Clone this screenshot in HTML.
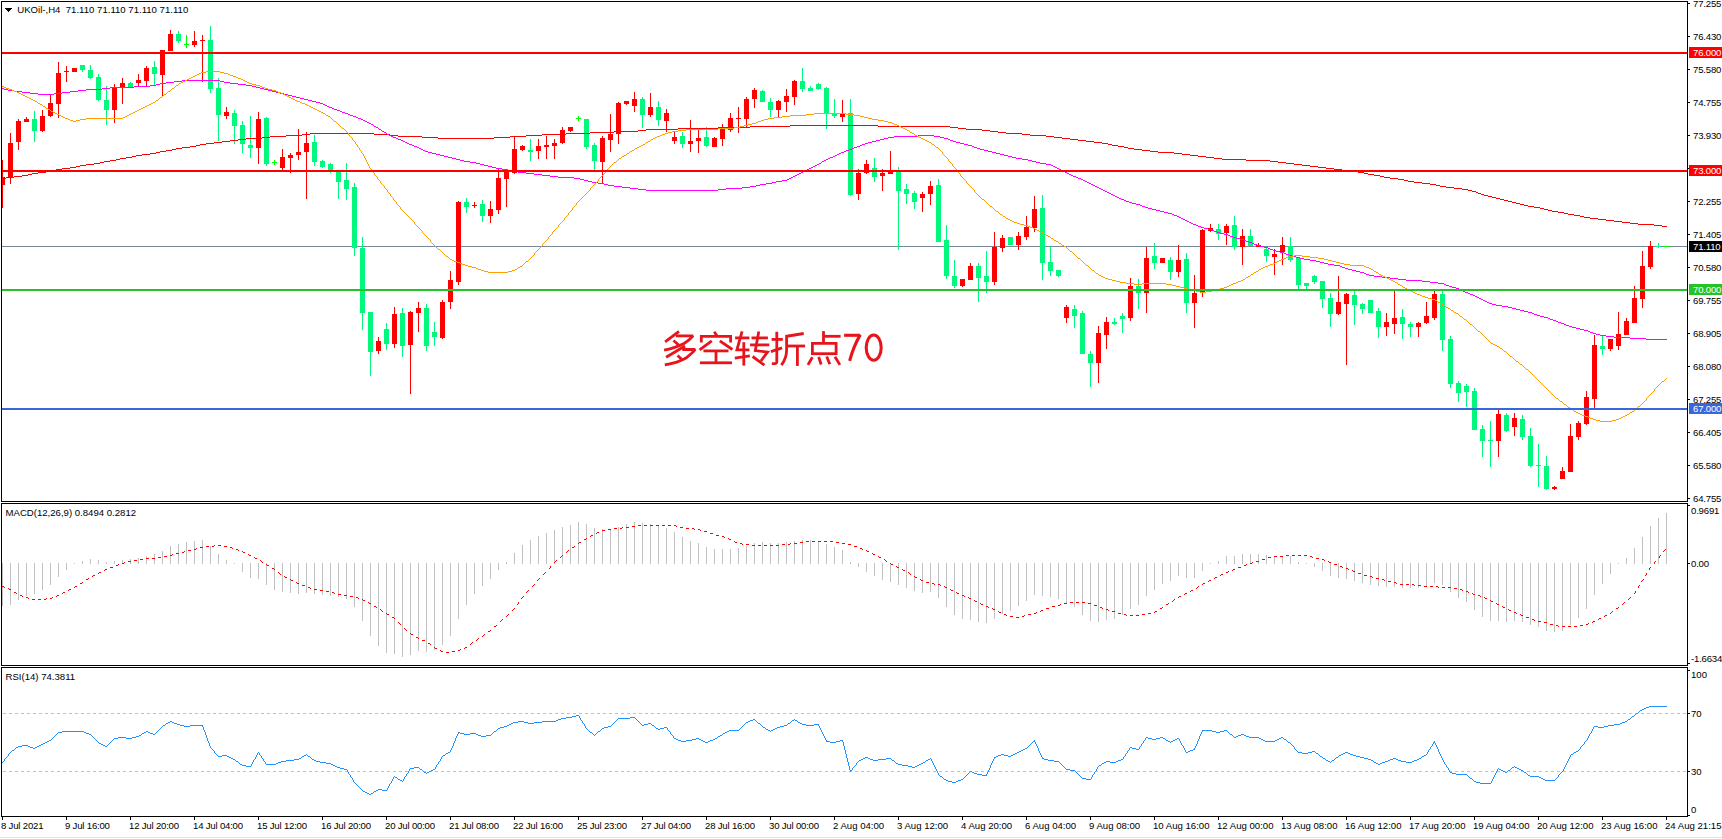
<!DOCTYPE html><html><head><meta charset="utf-8"><title>UKOil H4</title><style>html,body{margin:0;padding:0;background:#fff}body{width:1722px;height:839px;overflow:hidden}svg{display:block}text{font-family:"Liberation Sans",sans-serif;font-size:9.8px;fill:#000}</style></head><body>
<svg width="1722" height="839" viewBox="0 0 1722 839">
<rect width="1722" height="839" fill="#fff"/>
<g shape-rendering="crispEdges">
<rect x="0" y="837" width="1722" height="1" fill="#e2e2e2"/>
<path d="M2 563v43M10 563v42M18 563v37M26 563v33M34 563v31M42 563v27M50 563v22M58 563v14M66 563v7M74 563v1M82 561v3M90 559v5M98 560v4M106 562v2M114 561v3M122 560v4M130 559v5M138 558v6M146 556v8M154 554v10M162 551v13M170 546v18M178 544v20M186 542v22M194 541v23M202 540v24M210 546v18M218 554v10M226 560v4M234 563v1M242 563v9M250 563v15M258 563v16M266 563v22M274 563v27M282 563v29M290 563v30M298 563v31M306 563v30M314 563v31M322 563v32M330 563v33M338 563v34M346 563v36M354 563v44M362 563v58M370 563v73M378 563v83M386 563v90M394 563v91M402 563v94M410 563v92M418 563v88M426 563v89M434 563v87M442 563v82M450 563v73M458 563v56M466 563v42M474 563v31M482 563v23M490 563v16M498 563v7M506 562v2M514 553v11M522 545v19M530 540v24M538 536v28M546 533v31M554 530v34M562 527v37M570 525v39M578 522v42M586 524v40M594 528v36M602 529v35M610 529v35M618 527v37M626 524v40M634 522v42M642 523v41M650 524v40M658 526v38M666 528v36M674 532v32M682 537v27M690 541v23M698 543v21M706 547v17M714 549v15M722 549v15M730 549v15M738 548v16M746 546v18M754 543v21M762 542v22M770 543v21M778 543v21M786 542v22M794 541v23M802 540v24M810 540v24M818 541v23M826 544v20M834 547v17M842 550v14M850 562v2M858 563v4M866 563v9M874 563v13M882 563v17M890 563v19M898 563v22M906 563v25M914 563v28M922 563v30M930 563v29M938 563v35M946 563v44M954 563v52M962 563v56M970 563v57M978 563v59M986 563v60M994 563v56M1002 563v51M1010 563v48M1018 563v43M1026 563v38M1034 563v32M1042 563v33M1050 563v34M1058 563v36M1066 563v40M1074 563v44M1082 563v52M1090 563v58M1098 563v59M1106 563v57M1114 563v56M1122 563v52M1130 563v46M1138 563v42M1146 563v33M1154 563v27M1162 563v21M1170 563v18M1178 563v13M1186 563v15M1194 563v15M1202 563v8M1210 563v1M1218 561v3M1226 556v8M1234 556v8M1242 554v10M1250 554v10M1258 554v10M1266 555v9M1274 556v8M1282 556v8M1290 556v8M1298 562v2M1306 563v1M1314 563v4M1322 563v8M1330 563v13M1338 563v15M1346 563v16M1354 563v18M1362 563v20M1370 563v22M1378 563v23M1386 563v24M1394 563v24M1402 563v25M1410 563v25M1418 563v25M1426 563v23M1434 563v20M1442 563v22M1450 563v29M1458 563v35M1466 563v39M1474 563v47M1482 563v54M1490 563v58M1498 563v58M1506 563v59M1514 563v58M1522 563v59M1530 563v62M1538 563v64M1546 563v68M1554 563v69M1562 563v68M1570 563v62M1578 563v55M1586 563v46M1594 563v32M1602 563v21M1610 563v11M1618 563v1M1626 558v6M1634 548v16M1642 537v27M1650 526v38M1658 518v46M1666 513v51" stroke="#c0c0c0" stroke-width="1" fill="none" transform="translate(0.5,0)"/>
<path d="M3 713.5H1687M3 771.5H1687" stroke="#c0c0c0" stroke-width="1" stroke-dasharray="3 3" fill="none"/>
<rect x="2" y="246" width="1685" height="1" fill="#778899"/>
<path d="M34 111h1v31h-1zM32 119h5v12h-5zM82 65h1v7h-1zM80 65h5v5h-5zM90 65h1v14h-1zM88 70h5v8h-5zM98 74h1v27h-1zM96 77h5v23h-5zM106 86h1v39h-1zM104 100h5v10h-5zM130 82h1v5h-1zM128 83h5v4h-5zM154 61h1v24h-1zM152 67h5v7h-5zM178 31h1v12h-1zM176 34h5v7h-5zM210 26h1v67h-1zM208 40h5v49h-5zM218 78h1v63h-1zM216 88h5v27h-5zM234 110h1v34h-1zM232 113h5v13h-5zM242 121h1v32h-1zM240 125h5v19h-5zM250 116h1v42h-1zM248 145h5v3h-5zM266 117h1v49h-1zM264 118h5v46h-5zM314 135h1v31h-1zM312 142h5v20h-5zM322 160h1v8h-1zM320 161h5v6h-5zM330 163h1v10h-1zM328 164h5v6h-5zM338 170h1v29h-1zM336 170h5v12h-5zM346 163h1v37h-1zM344 180h5v9h-5zM354 183h1v73h-1zM352 187h5v61h-5zM362 237h1v93h-1zM360 248h5v65h-5zM370 312h1v64h-1zM368 312h5v40h-5zM386 323h1v27h-1zM384 329h5v15h-5zM402 308h1v49h-1zM400 313h5v33h-5zM426 304h1v47h-1zM424 308h5v38h-5zM434 322h1v24h-1zM432 332h5v5h-5zM466 198h1v15h-1zM464 202h5v5h-5zM482 200h1v22h-1zM480 204h5v12h-5zM530 139h1v22h-1zM528 150h5v2h-5zM586 119h1v30h-1zM584 119h5v28h-5zM594 143h1v27h-1zM592 145h5v16h-5zM642 97h1v31h-1zM640 99h5v16h-5zM658 101h1v25h-1zM656 107h5v13h-5zM682 132h1v16h-1zM680 136h5v8h-5zM706 127h1v20h-1zM704 137h5v9h-5zM762 90h1v12h-1zM760 91h5v11h-5zM770 98h1v19h-1zM768 102h5v8h-5zM802 68h1v24h-1zM800 81h5v8h-5zM810 86h1v5h-1zM808 88h5v3h-5zM818 83h1v7h-1zM816 84h5v5h-5zM826 87h1v42h-1zM824 88h5v26h-5zM834 99h1v19h-1zM832 113h5v3h-5zM850 99h1v97h-1zM848 113h5v82h-5zM874 158h1v24h-1zM872 168h5v9h-5zM898 167h1v83h-1zM896 172h5v19h-5zM906 184h1v20h-1zM904 189h5v5h-5zM914 191h1v18h-1zM912 193h5v9h-5zM938 179h1v63h-1zM936 185h5v57h-5zM946 225h1v54h-1zM944 240h5v36h-5zM954 260h1v28h-1zM952 276h5v10h-5zM978 263h1v39h-1zM976 266h5v12h-5zM986 251h1v42h-1zM984 276h5v6h-5zM1010 237h1v8h-1zM1008 237h5v8h-5zM1042 195h1v85h-1zM1040 208h5v55h-5zM1050 246h1v30h-1zM1048 262h5v9h-5zM1058 270h1v7h-1zM1056 270h5v6h-5zM1074 305h1v23h-1zM1072 309h5v7h-5zM1082 311h1v43h-1zM1080 313h5v41h-5zM1090 351h1v36h-1zM1088 354h5v9h-5zM1114 318h1v7h-1zM1112 322h5v2h-5zM1122 313h1v20h-1zM1120 316h5v3h-5zM1138 279h1v30h-1zM1136 286h5v7h-5zM1154 243h1v26h-1zM1152 256h5v7h-5zM1170 257h1v23h-1zM1168 260h5v12h-5zM1186 253h1v60h-1zM1184 259h5v44h-5zM1218 224h1v16h-1zM1216 229h5v5h-5zM1234 216h1v34h-1zM1232 225h5v22h-5zM1250 229h1v17h-1zM1248 236h5v10h-5zM1266 247h1v15h-1zM1264 249h5v7h-5zM1290 237h1v25h-1zM1288 246h5v14h-5zM1298 258h1v31h-1zM1296 258h5v27h-5zM1306 283h1v6h-1zM1304 283h5v3h-5zM1314 275h1v9h-1zM1312 276h5v6h-5zM1322 281h1v27h-1zM1320 281h5v18h-5zM1330 293h1v34h-1zM1328 298h5v16h-5zM1354 291h1v34h-1zM1352 295h5v10h-5zM1362 303h1v11h-1zM1360 304h5v5h-5zM1370 300h1v13h-1zM1368 300h5v13h-5zM1378 308h1v30h-1zM1376 311h5v16h-5zM1402 309h1v30h-1zM1400 317h5v7h-5zM1410 322h1v15h-1zM1408 324h5v3h-5zM1442 291h1v60h-1zM1440 294h5v46h-5zM1450 336h1v52h-1zM1448 339h5v45h-5zM1458 381h1v21h-1zM1456 383h5v10h-5zM1466 384h1v23h-1zM1464 386h5v6h-5zM1474 388h1v42h-1zM1472 391h5v39h-5zM1482 425h1v32h-1zM1480 429h5v12h-5zM1490 421h1v46h-1zM1488 440h5v1h-5zM1506 413h1v19h-1zM1504 415h5v16h-5zM1522 415h1v25h-1zM1520 419h5v18h-5zM1530 428h1v39h-1zM1528 436h5v30h-5zM1538 444h1v43h-1zM1536 465h5v1h-5zM1546 456h1v34h-1zM1544 466h5v23h-5zM1602 336h1v19h-1zM1600 346h5v3h-5zM1658 243h1v5h-1zM1656 246h5v1h-5z" fill="#00f87d"/>
<path d="M186 35h1v13h-1zM184 44h5v1h-5zM274 160h1v5h-1zM272 162h5v1h-5zM578 116h1v5h-1zM576 118h5v1h-5zM1666 246h1v1h-1zM1664 246h5v1h-5z" fill="#00ff00"/>
<path d="M2 160h1v48h-1zM2 177h3v8h-3zM10 133h1v51h-1zM8 143h5v35h-5zM18 119h1v31h-1zM16 121h5v21h-5zM26 117h1v5h-1zM24 119h5v3h-5zM42 110h1v22h-1zM40 116h5v15h-5zM50 94h1v23h-1zM48 103h5v13h-5zM58 62h1v56h-1zM56 73h5v31h-5zM66 66h1v16h-1zM64 71h5v1h-5zM74 68h1v4h-1zM72 68h5v4h-5zM114 84h1v39h-1zM112 87h5v23h-5zM122 78h1v26h-1zM120 83h5v4h-5zM138 74h1v12h-1zM136 80h5v3h-5zM146 66h1v20h-1zM144 68h5v13h-5zM162 50h1v47h-1zM160 50h5v25h-5zM170 30h1v21h-1zM168 34h5v17h-5zM194 31h1v16h-1zM192 41h5v4h-5zM202 35h1v47h-1zM200 40h5v1h-5zM226 107h1v12h-1zM224 112h5v4h-5zM258 112h1v52h-1zM256 119h5v29h-5zM282 149h1v21h-1zM280 157h5v11h-5zM290 153h1v20h-1zM288 155h5v3h-5zM298 129h1v31h-1zM296 152h5v3h-5zM306 132h1v67h-1zM304 143h5v9h-5zM378 337h1v17h-1zM376 341h5v10h-5zM394 307h1v41h-1zM392 314h5v30h-5zM410 311h1v83h-1zM408 312h5v33h-5zM418 302h1v30h-1zM416 308h5v5h-5zM442 300h1v39h-1zM440 302h5v36h-5zM450 271h1v38h-1zM448 280h5v22h-5zM458 201h1v84h-1zM456 202h5v80h-5zM474 202h1v6h-1zM472 205h5v1h-5zM490 201h1v22h-1zM488 209h5v7h-5zM498 169h1v45h-1zM496 178h5v32h-5zM506 169h1v38h-1zM504 170h5v9h-5zM514 136h1v38h-1zM512 149h5v24h-5zM522 145h1v6h-1zM520 146h5v4h-5zM538 139h1v20h-1zM536 146h5v5h-5zM546 136h1v23h-1zM544 145h5v2h-5zM554 139h1v20h-1zM552 143h5v3h-5zM562 127h1v17h-1zM560 130h5v13h-5zM570 127h1v5h-1zM568 127h5v4h-5zM602 136h1v47h-1zM600 138h5v24h-5zM610 114h1v38h-1zM608 134h5v6h-5zM618 102h1v42h-1zM616 103h5v31h-5zM626 101h1v4h-1zM624 101h5v3h-5zM634 92h1v20h-1zM632 99h5v7h-5zM650 93h1v24h-1zM648 107h5v8h-5zM666 109h1v23h-1zM664 113h5v8h-5zM674 132h1v12h-1zM672 137h5v4h-5zM690 120h1v32h-1zM688 141h5v3h-5zM698 130h1v23h-1zM696 138h5v3h-5zM714 137h1v10h-1zM712 138h5v9h-5zM722 124h1v22h-1zM720 128h5v11h-5zM730 113h1v19h-1zM728 118h5v12h-5zM738 107h1v26h-1zM736 118h5v1h-5zM746 97h1v30h-1zM744 99h5v20h-5zM754 88h1v20h-1zM752 90h5v9h-5zM778 100h1v17h-1zM776 101h5v9h-5zM786 89h1v23h-1zM784 96h5v6h-5zM794 80h1v25h-1zM792 81h5v16h-5zM842 100h1v22h-1zM840 113h5v4h-5zM858 169h1v31h-1zM856 173h5v21h-5zM866 160h1v14h-1zM864 164h5v9h-5zM882 169h1v22h-1zM880 173h5v3h-5zM890 151h1v23h-1zM888 170h5v4h-5zM922 192h1v20h-1zM920 194h5v4h-5zM930 181h1v24h-1zM928 186h5v8h-5zM962 279h1v8h-1zM960 279h5v7h-5zM970 263h1v17h-1zM968 266h5v14h-5zM994 232h1v53h-1zM992 247h5v35h-5zM1002 235h1v17h-1zM1000 238h5v10h-5zM1018 232h1v18h-1zM1016 236h5v9h-5zM1026 216h1v24h-1zM1024 227h5v10h-5zM1034 196h1v36h-1zM1032 209h5v19h-5zM1066 305h1v18h-1zM1064 307h5v11h-5zM1098 326h1v57h-1zM1096 333h5v30h-5zM1106 317h1v32h-1zM1104 322h5v13h-5zM1130 278h1v43h-1zM1128 286h5v32h-5zM1146 247h1v66h-1zM1144 258h5v35h-5zM1162 258h1v5h-1zM1160 258h5v5h-5zM1178 245h1v32h-1zM1176 260h5v12h-5zM1194 275h1v53h-1zM1192 293h5v10h-5zM1202 229h1v68h-1zM1200 230h5v63h-5zM1210 224h1v8h-1zM1208 228h5v3h-5zM1226 224h1v21h-1zM1224 226h5v7h-5zM1242 229h1v36h-1zM1240 236h5v11h-5zM1258 243h1v4h-1zM1256 245h5v2h-5zM1274 249h1v26h-1zM1272 254h5v3h-5zM1282 237h1v28h-1zM1280 245h5v7h-5zM1338 276h1v39h-1zM1336 302h5v12h-5zM1346 293h1v72h-1zM1344 294h5v10h-5zM1386 313h1v23h-1zM1384 322h5v5h-5zM1394 291h1v43h-1zM1392 318h5v6h-5zM1418 322h1v15h-1zM1416 323h5v4h-5zM1426 302h1v22h-1zM1424 316h5v7h-5zM1434 291h1v29h-1zM1432 294h5v24h-5zM1498 410h1v47h-1zM1496 414h5v27h-5zM1514 413h1v23h-1zM1512 418h5v9h-5zM1554 486h1v4h-1zM1552 487h5v2h-5zM1562 467h1v12h-1zM1560 471h5v8h-5zM1570 424h1v48h-1zM1568 436h5v36h-5zM1578 421h1v19h-1zM1576 423h5v14h-5zM1586 391h1v34h-1zM1584 397h5v27h-5zM1594 335h1v73h-1zM1592 345h5v54h-5zM1610 339h1v12h-1zM1608 339h5v10h-5zM1618 312h1v38h-1zM1616 334h5v12h-5zM1626 318h1v17h-1zM1624 321h5v14h-5zM1634 286h1v37h-1zM1632 298h5v25h-5zM1642 251h1v57h-1zM1640 266h5v33h-5zM1650 241h1v28h-1zM1648 246h5v21h-5z" fill="#ff0000"/>
<path d="M790 125h88v1h-88zM750 126h40v1h-40zM878 126h72v1h-72zM718 127h32v1h-32zM950 127h8v1h-8zM678 128h40v1h-40zM958 128h8v1h-8zM646 129h32v1h-32zM966 129h16v1h-16zM638 130h8v1h-8zM982 130h8v1h-8zM614 131h24v1h-24zM990 131h8v1h-8zM590 132h24v1h-24zM998 132h8v1h-8zM310 133h64v1h-64zM566 133h24v1h-24zM1006 133h16v1h-16zM302 134h8v1h-8zM374 134h16v1h-16zM542 134h24v1h-24zM1022 134h8v1h-8zM286 135h16v1h-16zM390 135h8v1h-8zM526 135h16v1h-16zM1030 135h16v1h-16zM270 136h16v1h-16zM398 136h24v1h-24zM510 136h16v1h-16zM1046 136h8v1h-8zM262 137h8v1h-8zM422 137h16v1h-16zM494 137h16v1h-16zM1054 137h8v1h-8zM246 138h16v1h-16zM438 138h56v1h-56zM1062 138h8v1h-8zM238 139h8v1h-8zM1070 139h8v1h-8zM230 140h8v1h-8zM1078 140h8v1h-8zM222 141h8v1h-8zM1086 141h8v1h-8zM214 142h8v1h-8zM1094 142h8v1h-8zM206 143h8v1h-8zM1102 143h6v1h-6zM200 144h6v1h-6zM1108 144h4v1h-4zM196 145h4v1h-4zM1112 145h6v1h-6zM190 146h6v1h-6zM1118 146h6v1h-6zM182 147h8v1h-8zM1124 147h4v1h-4zM176 148h6v1h-6zM1128 148h6v1h-6zM172 149h4v1h-4zM1134 149h8v1h-8zM166 150h6v1h-6zM1142 150h8v1h-8zM160 151h6v1h-6zM1150 151h8v1h-8zM156 152h4v1h-4zM1158 152h16v1h-16zM150 153h6v1h-6zM1174 153h8v1h-8zM142 154h8v1h-8zM1182 154h8v1h-8zM136 155h6v1h-6zM1190 155h8v1h-8zM132 156h4v1h-4zM1198 156h8v1h-8zM126 157h6v1h-6zM1206 157h8v1h-8zM120 158h6v1h-6zM1214 158h8v1h-8zM116 159h4v1h-4zM1222 159h24v1h-24zM110 160h6v1h-6zM1246 160h24v1h-24zM104 161h6v1h-6zM1270 161h8v1h-8zM100 162h4v1h-4zM1278 162h8v1h-8zM94 163h6v1h-6zM1286 163h8v1h-8zM86 164h8v1h-8zM1294 164h8v1h-8zM80 165h6v1h-6zM1302 165h8v1h-8zM76 166h4v1h-4zM1310 166h8v1h-8zM70 167h6v1h-6zM1318 167h8v1h-8zM62 168h8v1h-8zM1326 168h8v1h-8zM56 169h6v1h-6zM1334 169h8v1h-8zM52 170h4v1h-4zM1342 170h8v1h-8zM46 171h6v1h-6zM1350 171h8v1h-8zM38 172h8v1h-8zM1358 172h6v1h-6zM32 173h6v1h-6zM1364 173h4v1h-4zM28 174h4v1h-4zM1368 174h6v1h-6zM22 175h6v1h-6zM1374 175h6v1h-6zM14 176h8v1h-8zM1380 176h4v1h-4zM6 177h8v1h-8zM1384 177h6v1h-6zM2 178h4v1h-4zM1390 178h8v1h-8zM1398 179h6v1h-6zM1404 180h4v1h-4zM1408 181h6v1h-6zM1414 182h8v1h-8zM1422 183h8v1h-8zM1430 184h6v1h-6zM1436 185h4v1h-4zM1440 186h6v1h-6zM1446 187h8v1h-8zM1454 188h8v1h-8zM1462 189h6v1h-6zM1468 190h4v1h-4zM1472 191h4v1h-4zM1476 192h2v1h-2zM1478 193h3v1h-3zM1481 194h3v1h-3zM1484 195h4v1h-4zM1488 196h4v1h-4zM1492 197h4v1h-4zM1496 198h4v1h-4zM1500 199h4v1h-4zM1504 200h4v1h-4zM1508 201h4v1h-4zM1512 202h4v1h-4zM1516 203h4v1h-4zM1520 204h4v1h-4zM1524 205h4v1h-4zM1528 206h6v1h-6zM1534 207h6v1h-6zM1540 208h4v1h-4zM1544 209h4v1h-4zM1548 210h4v1h-4zM1552 211h6v1h-6zM1558 212h6v1h-6zM1564 213h4v1h-4zM1568 214h6v1h-6zM1574 215h6v1h-6zM1580 216h4v1h-4zM1584 217h6v1h-6zM1590 218h8v1h-8zM1598 219h8v1h-8zM1606 220h8v1h-8zM1614 221h8v1h-8zM1622 222h8v1h-8zM1630 223h8v1h-8zM1638 224h16v1h-16zM1654 225h8v1h-8zM1662 226h5v1h-5z" fill="#ff0000"/>
<path d="M182 80h38v1h-38zM174 81h8v1h-8zM220 81h4v1h-4zM166 82h8v1h-8zM224 82h6v1h-6zM160 83h6v1h-6zM230 83h8v1h-8zM156 84h4v1h-4zM238 84h8v1h-8zM150 85h6v1h-6zM246 85h6v1h-6zM134 86h16v1h-16zM252 86h4v1h-4zM110 87h24v1h-24zM256 87h4v1h-4zM2 88h2v1h-2zM102 88h8v1h-8zM260 88h4v1h-4zM4 89h4v1h-4zM86 89h16v1h-16zM264 89h4v1h-4zM8 90h6v1h-6zM78 90h8v1h-8zM268 90h4v1h-4zM14 91h8v1h-8zM70 91h8v1h-8zM272 91h4v1h-4zM22 92h8v1h-8zM62 92h8v1h-8zM276 92h4v1h-4zM30 93h8v1h-8zM54 93h8v1h-8zM280 93h4v1h-4zM38 94h16v1h-16zM284 94h4v1h-4zM288 95h4v1h-4zM292 96h4v1h-4zM296 97h4v1h-4zM300 98h4v1h-4zM304 99h4v1h-4zM308 100h4v1h-4zM312 101h4v1h-4zM316 102h4v1h-4zM320 103h3v1h-3zM323 104h2v1h-2zM325 105h2v1h-2zM327 106h2v1h-2zM329 107h3v1h-3zM332 108h2v1h-2zM334 109h3v1h-3zM337 110h3v1h-3zM340 111h2v1h-2zM342 112h3v1h-3zM345 113h3v1h-3zM348 114h2v1h-2zM350 115h3v1h-3zM353 116h3v1h-3zM356 117h2v1h-2zM358 118h3v1h-3zM361 119h2v1h-2zM363 120h2v1h-2zM365 121h2v1h-2zM367 122h2v1h-2zM369 123h2v1h-2zM371 124h2v1h-2zM373 125h1v1h-1zM374 126h2v1h-2zM376 127h2v1h-2zM378 128h1v1h-1zM379 129h2v1h-2zM381 130h1v1h-1zM382 131h2v1h-2zM384 132h2v1h-2zM386 133h1v1h-1zM387 134h2v1h-2zM389 135h2v1h-2zM918 135h16v1h-16zM391 136h2v1h-2zM894 136h24v1h-24zM934 136h6v1h-6zM393 137h3v1h-3zM888 137h6v1h-6zM940 137h4v1h-4zM396 138h2v1h-2zM884 138h4v1h-4zM944 138h4v1h-4zM398 139h3v1h-3zM880 139h4v1h-4zM948 139h2v1h-2zM401 140h2v1h-2zM876 140h4v1h-4zM950 140h3v1h-3zM403 141h2v1h-2zM872 141h4v1h-4zM953 141h3v1h-3zM405 142h2v1h-2zM868 142h4v1h-4zM956 142h4v1h-4zM407 143h2v1h-2zM865 143h3v1h-3zM960 143h4v1h-4zM409 144h3v1h-3zM862 144h3v1h-3zM964 144h4v1h-4zM412 145h2v1h-2zM860 145h2v1h-2zM968 145h4v1h-4zM414 146h3v1h-3zM857 146h3v1h-3zM972 146h2v1h-2zM417 147h2v1h-2zM854 147h3v1h-3zM974 147h3v1h-3zM419 148h2v1h-2zM852 148h2v1h-2zM977 148h3v1h-3zM421 149h2v1h-2zM849 149h3v1h-3zM980 149h4v1h-4zM423 150h2v1h-2zM846 150h3v1h-3zM984 150h4v1h-4zM425 151h3v1h-3zM844 151h2v1h-2zM988 151h4v1h-4zM428 152h4v1h-4zM841 152h3v1h-3zM992 152h4v1h-4zM432 153h4v1h-4zM839 153h2v1h-2zM996 153h4v1h-4zM436 154h4v1h-4zM837 154h2v1h-2zM1000 154h4v1h-4zM440 155h4v1h-4zM835 155h2v1h-2zM1004 155h4v1h-4zM444 156h4v1h-4zM833 156h2v1h-2zM1008 156h4v1h-4zM448 157h4v1h-4zM830 157h3v1h-3zM1012 157h4v1h-4zM452 158h4v1h-4zM828 158h2v1h-2zM1016 158h6v1h-6zM456 159h4v1h-4zM826 159h2v1h-2zM1022 159h6v1h-6zM460 160h4v1h-4zM824 160h2v1h-2zM1028 160h4v1h-4zM464 161h6v1h-6zM822 161h2v1h-2zM1032 161h4v1h-4zM470 162h6v1h-6zM821 162h1v1h-1zM1036 162h4v1h-4zM476 163h4v1h-4zM819 163h2v1h-2zM1040 163h6v1h-6zM480 164h4v1h-4zM817 164h2v1h-2zM1046 164h5v1h-5zM484 165h4v1h-4zM815 165h2v1h-2zM1051 165h2v1h-2zM488 166h4v1h-4zM813 166h2v1h-2zM1053 166h2v1h-2zM492 167h4v1h-4zM811 167h2v1h-2zM1055 167h2v1h-2zM496 168h6v1h-6zM809 168h2v1h-2zM1057 168h2v1h-2zM502 169h6v1h-6zM807 169h2v1h-2zM1059 169h2v1h-2zM508 170h4v1h-4zM805 170h2v1h-2zM1061 170h2v1h-2zM512 171h6v1h-6zM803 171h2v1h-2zM1063 171h2v1h-2zM518 172h8v1h-8zM801 172h2v1h-2zM1065 172h2v1h-2zM526 173h8v1h-8zM799 173h2v1h-2zM1067 173h2v1h-2zM534 174h8v1h-8zM797 174h2v1h-2zM1069 174h2v1h-2zM542 175h8v1h-8zM795 175h2v1h-2zM1071 175h2v1h-2zM550 176h8v1h-8zM793 176h2v1h-2zM1073 176h3v1h-3zM558 177h16v1h-16zM791 177h2v1h-2zM1076 177h2v1h-2zM574 178h6v1h-6zM789 178h2v1h-2zM1078 178h3v1h-3zM580 179h4v1h-4zM787 179h2v1h-2zM1081 179h2v1h-2zM584 180h4v1h-4zM782 180h5v1h-5zM1083 180h2v1h-2zM588 181h4v1h-4zM776 181h6v1h-6zM1085 181h2v1h-2zM592 182h6v1h-6zM772 182h4v1h-4zM1087 182h2v1h-2zM598 183h6v1h-6zM766 183h6v1h-6zM1089 183h2v1h-2zM604 184h4v1h-4zM760 184h6v1h-6zM1091 184h2v1h-2zM608 185h6v1h-6zM756 185h4v1h-4zM1093 185h2v1h-2zM614 186h8v1h-8zM750 186h6v1h-6zM1095 186h2v1h-2zM622 187h8v1h-8zM742 187h8v1h-8zM1097 187h2v1h-2zM630 188h8v1h-8zM726 188h16v1h-16zM1099 188h2v1h-2zM638 189h8v1h-8zM718 189h8v1h-8zM1101 189h2v1h-2zM646 190h72v1h-72zM1103 190h2v1h-2zM1105 191h2v1h-2zM1107 192h2v1h-2zM1109 193h2v1h-2zM1111 194h2v1h-2zM1113 195h2v1h-2zM1115 196h2v1h-2zM1117 197h2v1h-2zM1119 198h2v1h-2zM1121 199h3v1h-3zM1124 200h2v1h-2zM1126 201h3v1h-3zM1129 202h3v1h-3zM1132 203h4v1h-4zM1136 204h4v1h-4zM1140 205h2v1h-2zM1142 206h3v1h-3zM1145 207h3v1h-3zM1148 208h4v1h-4zM1152 209h4v1h-4zM1156 210h4v1h-4zM1160 211h4v1h-4zM1164 212h4v1h-4zM1168 213h4v1h-4zM1172 214h2v1h-2zM1174 215h3v1h-3zM1177 216h2v1h-2zM1179 217h2v1h-2zM1181 218h2v1h-2zM1183 219h2v1h-2zM1185 220h2v1h-2zM1187 221h2v1h-2zM1189 222h2v1h-2zM1191 223h2v1h-2zM1193 224h3v1h-3zM1196 225h2v1h-2zM1198 226h3v1h-3zM1201 227h3v1h-3zM1204 228h4v1h-4zM1208 229h4v1h-4zM1212 230h2v1h-2zM1214 231h3v1h-3zM1217 232h3v1h-3zM1220 233h4v1h-4zM1224 234h4v1h-4zM1228 235h2v1h-2zM1230 236h3v1h-3zM1233 237h3v1h-3zM1236 238h4v1h-4zM1240 239h4v1h-4zM1244 240h2v1h-2zM1246 241h3v1h-3zM1249 242h3v1h-3zM1252 243h2v1h-2zM1254 244h3v1h-3zM1257 245h3v1h-3zM1260 246h4v1h-4zM1264 247h4v1h-4zM1268 248h2v1h-2zM1270 249h3v1h-3zM1273 250h3v1h-3zM1276 251h4v1h-4zM1280 252h4v1h-4zM1284 253h2v1h-2zM1286 254h3v1h-3zM1289 255h3v1h-3zM1292 256h4v1h-4zM1296 257h4v1h-4zM1300 258h4v1h-4zM1304 259h6v1h-6zM1310 260h6v1h-6zM1316 261h4v1h-4zM1320 262h4v1h-4zM1324 263h4v1h-4zM1328 264h6v1h-6zM1334 265h6v1h-6zM1340 266h2v1h-2zM1342 267h3v1h-3zM1345 268h3v1h-3zM1348 269h4v1h-4zM1352 270h4v1h-4zM1356 271h4v1h-4zM1360 272h4v1h-4zM1364 273h2v1h-2zM1366 274h3v1h-3zM1369 275h5v1h-5zM1374 276h8v1h-8zM1382 277h8v1h-8zM1390 278h8v1h-8zM1398 279h8v1h-8zM1406 280h16v1h-16zM1422 281h8v1h-8zM1430 282h8v1h-8zM1438 283h6v1h-6zM1444 284h2v1h-2zM1446 285h3v1h-3zM1449 286h3v1h-3zM1452 287h4v1h-4zM1456 288h3v1h-3zM1459 289h2v1h-2zM1461 290h2v1h-2zM1463 291h2v1h-2zM1465 292h3v1h-3zM1468 293h2v1h-2zM1470 294h3v1h-3zM1473 295h2v1h-2zM1475 296h2v1h-2zM1477 297h2v1h-2zM1479 298h2v1h-2zM1481 299h2v1h-2zM1483 300h2v1h-2zM1485 301h2v1h-2zM1487 302h2v1h-2zM1489 303h3v1h-3zM1492 304h4v1h-4zM1496 305h6v1h-6zM1502 306h6v1h-6zM1508 307h4v1h-4zM1512 308h4v1h-4zM1516 309h4v1h-4zM1520 310h4v1h-4zM1524 311h4v1h-4zM1528 312h4v1h-4zM1532 313h2v1h-2zM1534 314h3v1h-3zM1537 315h3v1h-3zM1540 316h4v1h-4zM1544 317h4v1h-4zM1548 318h2v1h-2zM1550 319h3v1h-3zM1553 320h3v1h-3zM1556 321h2v1h-2zM1558 322h3v1h-3zM1561 323h3v1h-3zM1564 324h2v1h-2zM1566 325h3v1h-3zM1569 326h3v1h-3zM1572 327h4v1h-4zM1576 328h4v1h-4zM1580 329h4v1h-4zM1584 330h4v1h-4zM1588 331h2v1h-2zM1590 332h3v1h-3zM1593 333h3v1h-3zM1596 334h4v1h-4zM1600 335h6v1h-6zM1606 336h8v1h-8zM1614 337h16v1h-16zM1630 338h16v1h-16zM1646 339h21v1h-21z" fill="#ff00ff"/>
<path d="M206 71h14v1h-14zM201 72h5v1h-5zM220 72h4v1h-4zM199 73h2v1h-2zM224 73h4v1h-4zM197 74h2v1h-2zM228 74h2v1h-2zM195 75h2v1h-2zM230 75h3v1h-3zM193 76h2v1h-2zM233 76h3v1h-3zM191 77h2v1h-2zM236 77h2v1h-2zM189 78h2v1h-2zM238 78h3v1h-3zM187 79h2v1h-2zM241 79h2v1h-2zM185 80h2v1h-2zM243 80h2v1h-2zM183 81h2v1h-2zM245 81h2v1h-2zM181 82h2v1h-2zM247 82h2v1h-2zM179 83h2v1h-2zM249 83h3v1h-3zM178 84h1v1h-1zM252 84h4v1h-4zM176 85h2v1h-2zM256 85h4v1h-4zM2 86h2v1h-2zM175 86h1v1h-1zM260 86h2v1h-2zM4 87h2v1h-2zM174 87h1v1h-1zM262 87h3v1h-3zM6 88h3v1h-3zM172 88h2v1h-2zM265 88h3v1h-3zM9 89h3v1h-3zM171 89h1v1h-1zM268 89h4v1h-4zM12 90h2v1h-2zM170 90h1v1h-1zM272 90h4v1h-4zM14 91h3v1h-3zM168 91h2v1h-2zM276 91h2v1h-2zM17 92h2v1h-2zM167 92h1v1h-1zM278 92h3v1h-3zM19 93h2v1h-2zM166 93h1v1h-1zM281 93h2v1h-2zM21 94h2v1h-2zM164 94h2v1h-2zM283 94h2v1h-2zM23 95h2v1h-2zM163 95h1v1h-1zM285 95h2v1h-2zM25 96h2v1h-2zM162 96h1v1h-1zM287 96h2v1h-2zM27 97h2v1h-2zM160 97h2v1h-2zM289 97h2v1h-2zM29 98h2v1h-2zM159 98h1v1h-1zM291 98h2v1h-2zM31 99h2v1h-2zM158 99h1v1h-1zM293 99h2v1h-2zM33 100h2v1h-2zM156 100h2v1h-2zM295 100h2v1h-2zM35 101h2v1h-2zM155 101h1v1h-1zM297 101h3v1h-3zM37 102h1v1h-1zM153 102h2v1h-2zM300 102h2v1h-2zM38 103h2v1h-2zM151 103h2v1h-2zM302 103h3v1h-3zM40 104h2v1h-2zM149 104h2v1h-2zM305 104h2v1h-2zM42 105h1v1h-1zM147 105h2v1h-2zM307 105h2v1h-2zM43 106h2v1h-2zM145 106h2v1h-2zM309 106h2v1h-2zM45 107h1v1h-1zM143 107h2v1h-2zM311 107h2v1h-2zM46 108h2v1h-2zM141 108h2v1h-2zM313 108h2v1h-2zM48 109h2v1h-2zM139 109h2v1h-2zM315 109h2v1h-2zM50 110h1v1h-1zM137 110h2v1h-2zM317 110h2v1h-2zM51 111h2v1h-2zM135 111h2v1h-2zM319 111h2v1h-2zM53 112h2v1h-2zM133 112h2v1h-2zM321 112h2v1h-2zM55 113h2v1h-2zM131 113h2v1h-2zM323 113h2v1h-2zM814 113h32v1h-32zM57 114h2v1h-2zM129 114h2v1h-2zM325 114h1v1h-1zM806 114h8v1h-8zM846 114h8v1h-8zM59 115h2v1h-2zM127 115h2v1h-2zM326 115h2v1h-2zM790 115h16v1h-16zM854 115h6v1h-6zM61 116h2v1h-2zM125 116h2v1h-2zM328 116h2v1h-2zM782 116h8v1h-8zM860 116h4v1h-4zM63 117h2v1h-2zM123 117h2v1h-2zM330 117h1v1h-1zM774 117h8v1h-8zM864 117h4v1h-4zM65 118h3v1h-3zM86 118h37v1h-37zM331 118h1v1h-1zM768 118h6v1h-6zM868 118h4v1h-4zM68 119h2v1h-2zM80 119h6v1h-6zM332 119h1v1h-1zM764 119h4v1h-4zM872 119h6v1h-6zM70 120h3v1h-3zM76 120h4v1h-4zM333 120h1v1h-1zM761 120h3v1h-3zM878 120h6v1h-6zM73 121h3v1h-3zM334 121h2v1h-2zM758 121h3v1h-3zM884 121h4v1h-4zM336 122h1v1h-1zM756 122h2v1h-2zM888 122h4v1h-4zM337 123h1v1h-1zM752 123h4v1h-4zM892 123h2v1h-2zM338 124h1v1h-1zM748 124h4v1h-4zM894 124h3v1h-3zM339 125h1v1h-1zM744 125h4v1h-4zM897 125h2v1h-2zM340 126h1v1h-1zM740 126h4v1h-4zM899 126h2v1h-2zM341 127h1v1h-1zM734 127h6v1h-6zM901 127h2v1h-2zM342 128h2v1h-2zM718 128h16v1h-16zM903 128h2v1h-2zM344 129h1v1h-1zM686 129h32v1h-32zM905 129h2v1h-2zM345 130h1v1h-1zM678 130h8v1h-8zM907 130h2v1h-2zM346 131h1v1h-1zM672 131h6v1h-6zM909 131h1v1h-1zM347 132h1v1h-1zM668 132h4v1h-4zM910 132h2v1h-2zM348 133h1v2h-1zM665 133h3v1h-3zM912 133h2v1h-2zM662 134h3v1h-3zM914 134h1v1h-1zM349 135h1v1h-1zM660 135h2v1h-2zM915 135h2v1h-2zM350 136h1v1h-1zM657 136h3v1h-3zM917 136h2v1h-2zM351 137h1v1h-1zM655 137h2v1h-2zM919 137h2v1h-2zM352 138h1v2h-1zM653 138h2v1h-2zM921 138h2v1h-2zM651 139h2v1h-2zM923 139h2v1h-2zM353 140h1v1h-1zM650 140h1v1h-1zM925 140h2v1h-2zM354 141h1v1h-1zM648 141h2v1h-2zM927 141h2v1h-2zM355 142h1v2h-1zM646 142h2v1h-2zM929 142h2v1h-2zM645 143h1v1h-1zM931 143h1v1h-1zM356 144h1v1h-1zM643 144h2v1h-2zM932 144h2v1h-2zM357 145h1v2h-1zM641 145h2v1h-2zM934 145h1v1h-1zM639 146h2v1h-2zM935 146h1v1h-1zM358 147h1v1h-1zM637 147h2v1h-2zM936 147h2v1h-2zM359 148h1v2h-1zM635 148h2v1h-2zM938 148h1v1h-1zM634 149h1v1h-1zM939 149h1v1h-1zM360 150h1v1h-1zM632 150h2v1h-2zM940 150h1v1h-1zM361 151h1v2h-1zM630 151h2v1h-2zM941 151h1v1h-1zM629 152h1v1h-1zM942 152h1v2h-1zM362 153h1v1h-1zM627 153h2v1h-2zM363 154h1v2h-1zM626 154h1v1h-1zM943 154h1v1h-1zM624 155h2v1h-2zM944 155h1v1h-1zM364 156h1v2h-1zM622 156h2v1h-2zM945 156h1v1h-1zM621 157h1v1h-1zM946 157h1v1h-1zM365 158h1v2h-1zM619 158h2v1h-2zM947 158h1v1h-1zM618 159h1v1h-1zM948 159h1v2h-1zM366 160h1v2h-1zM617 160h1v1h-1zM616 161h1v1h-1zM949 161h1v1h-1zM367 162h1v2h-1zM614 162h2v1h-2zM950 162h1v1h-1zM613 163h1v1h-1zM951 163h1v1h-1zM368 164h1v2h-1zM612 164h1v1h-1zM952 164h1v2h-1zM611 165h1v1h-1zM369 166h1v2h-1zM610 166h1v1h-1zM953 166h1v1h-1zM609 167h1v1h-1zM954 167h1v1h-1zM370 168h1v1h-1zM608 168h1v1h-1zM955 168h1v1h-1zM371 169h1v2h-1zM607 169h1v1h-1zM956 169h1v2h-1zM606 170h1v2h-1zM372 171h1v1h-1zM957 171h1v1h-1zM373 172h1v1h-1zM605 172h1v1h-1zM958 172h1v1h-1zM374 173h1v2h-1zM604 173h1v1h-1zM959 173h1v1h-1zM603 174h1v1h-1zM960 174h1v2h-1zM375 175h1v1h-1zM602 175h1v1h-1zM376 176h1v1h-1zM601 176h1v1h-1zM961 176h1v1h-1zM377 177h1v2h-1zM600 177h1v1h-1zM962 177h1v1h-1zM599 178h1v1h-1zM963 178h1v1h-1zM378 179h1v1h-1zM598 179h1v2h-1zM964 179h1v1h-1zM379 180h1v1h-1zM965 180h1v1h-1zM380 181h1v2h-1zM597 181h1v1h-1zM966 181h1v2h-1zM596 182h1v1h-1zM381 183h1v1h-1zM595 183h1v1h-1zM967 183h1v1h-1zM382 184h1v1h-1zM594 184h1v1h-1zM968 184h1v1h-1zM383 185h1v1h-1zM593 185h1v1h-1zM969 185h1v1h-1zM384 186h1v2h-1zM592 186h1v1h-1zM970 186h1v1h-1zM591 187h1v1h-1zM971 187h1v1h-1zM385 188h1v1h-1zM590 188h1v2h-1zM972 188h1v1h-1zM386 189h1v1h-1zM973 189h1v1h-1zM387 190h1v2h-1zM589 190h1v1h-1zM974 190h1v2h-1zM588 191h1v1h-1zM388 192h1v1h-1zM587 192h1v1h-1zM975 192h1v1h-1zM389 193h1v1h-1zM586 193h1v1h-1zM976 193h1v1h-1zM390 194h1v2h-1zM585 194h1v1h-1zM977 194h1v1h-1zM584 195h1v1h-1zM978 195h1v1h-1zM391 196h1v1h-1zM583 196h1v1h-1zM979 196h1v1h-1zM392 197h1v1h-1zM582 197h1v1h-1zM980 197h1v1h-1zM393 198h1v2h-1zM581 198h1v1h-1zM981 198h1v1h-1zM580 199h1v1h-1zM982 199h2v1h-2zM394 200h1v1h-1zM579 200h1v1h-1zM984 200h1v1h-1zM395 201h1v1h-1zM578 201h1v1h-1zM985 201h1v1h-1zM396 202h1v2h-1zM577 202h1v1h-1zM986 202h1v1h-1zM576 203h1v2h-1zM987 203h1v1h-1zM397 204h1v1h-1zM988 204h1v1h-1zM398 205h1v1h-1zM575 205h1v1h-1zM989 205h1v1h-1zM399 206h1v1h-1zM574 206h1v1h-1zM990 206h2v1h-2zM400 207h1v2h-1zM573 207h1v1h-1zM992 207h1v1h-1zM572 208h1v2h-1zM993 208h1v1h-1zM401 209h1v1h-1zM994 209h1v1h-1zM402 210h1v1h-1zM571 210h1v1h-1zM995 210h1v1h-1zM403 211h1v1h-1zM570 211h1v1h-1zM996 211h2v1h-2zM404 212h1v1h-1zM569 212h1v1h-1zM998 212h1v1h-1zM405 213h1v1h-1zM568 213h1v2h-1zM999 213h1v1h-1zM406 214h1v1h-1zM1000 214h2v1h-2zM407 215h1v1h-1zM567 215h1v1h-1zM1002 215h1v1h-1zM408 216h1v1h-1zM566 216h1v1h-1zM1003 216h2v1h-2zM409 217h1v1h-1zM565 217h1v1h-1zM1005 217h1v1h-1zM410 218h1v1h-1zM564 218h1v2h-1zM1006 218h2v1h-2zM411 219h1v1h-1zM1008 219h2v1h-2zM412 220h1v1h-1zM563 220h1v1h-1zM1010 220h2v1h-2zM413 221h1v1h-1zM562 221h1v1h-1zM1012 221h2v1h-2zM414 222h1v2h-1zM561 222h1v1h-1zM1014 222h3v1h-3zM560 223h1v1h-1zM1017 223h3v1h-3zM415 224h1v1h-1zM559 224h1v1h-1zM1020 224h4v1h-4zM416 225h1v1h-1zM558 225h1v2h-1zM1024 225h4v1h-4zM417 226h1v1h-1zM1028 226h2v1h-2zM418 227h1v1h-1zM557 227h1v1h-1zM1030 227h3v1h-3zM419 228h1v1h-1zM556 228h1v1h-1zM1033 228h2v1h-2zM420 229h1v1h-1zM555 229h1v1h-1zM1035 229h2v1h-2zM421 230h1v1h-1zM554 230h1v1h-1zM1037 230h2v1h-2zM422 231h1v2h-1zM553 231h1v1h-1zM1039 231h2v1h-2zM552 232h1v2h-1zM1041 232h2v1h-2zM423 233h1v1h-1zM1043 233h2v1h-2zM424 234h1v1h-1zM551 234h1v1h-1zM1045 234h1v1h-1zM425 235h1v1h-1zM550 235h1v1h-1zM1046 235h2v1h-2zM426 236h1v1h-1zM549 236h1v1h-1zM1048 236h2v1h-2zM427 237h1v1h-1zM548 237h1v2h-1zM1050 237h1v1h-1zM428 238h1v1h-1zM1051 238h2v1h-2zM429 239h1v1h-1zM547 239h1v1h-1zM1053 239h1v1h-1zM430 240h1v2h-1zM546 240h1v1h-1zM1054 240h2v1h-2zM545 241h1v1h-1zM1056 241h2v1h-2zM431 242h1v1h-1zM544 242h1v1h-1zM1058 242h1v1h-1zM432 243h1v1h-1zM543 243h1v1h-1zM1059 243h2v1h-2zM433 244h1v1h-1zM542 244h1v2h-1zM1061 244h1v1h-1zM434 245h1v1h-1zM1062 245h2v1h-2zM435 246h1v1h-1zM541 246h1v1h-1zM1064 246h2v1h-2zM436 247h1v1h-1zM540 247h1v1h-1zM1066 247h1v1h-1zM437 248h1v1h-1zM539 248h1v1h-1zM1067 248h1v1h-1zM438 249h2v1h-2zM538 249h1v1h-1zM1068 249h1v1h-1zM440 250h1v1h-1zM537 250h1v1h-1zM1069 250h1v1h-1zM441 251h1v1h-1zM536 251h1v1h-1zM1070 251h2v1h-2zM442 252h1v1h-1zM535 252h1v1h-1zM1072 252h1v1h-1zM443 253h1v1h-1zM534 253h1v2h-1zM1073 253h1v1h-1zM444 254h1v1h-1zM1074 254h1v1h-1zM445 255h1v1h-1zM533 255h1v1h-1zM1075 255h1v1h-1zM1294 255h8v1h-8zM446 256h2v1h-2zM532 256h1v1h-1zM1076 256h1v1h-1zM1289 256h5v1h-5zM1302 256h8v1h-8zM448 257h1v1h-1zM531 257h1v1h-1zM1077 257h1v1h-1zM1286 257h3v1h-3zM1310 257h8v1h-8zM449 258h1v1h-1zM530 258h1v1h-1zM1078 258h2v1h-2zM1284 258h2v1h-2zM1318 258h6v1h-6zM450 259h2v1h-2zM529 259h1v1h-1zM1080 259h1v1h-1zM1281 259h3v1h-3zM1324 259h4v1h-4zM452 260h2v1h-2zM528 260h1v1h-1zM1081 260h1v1h-1zM1279 260h2v1h-2zM1328 260h4v1h-4zM454 261h3v1h-3zM526 261h2v1h-2zM1082 261h1v1h-1zM1277 261h2v1h-2zM1332 261h4v1h-4zM457 262h3v1h-3zM525 262h1v1h-1zM1083 262h1v1h-1zM1275 262h2v1h-2zM1336 262h4v1h-4zM460 263h2v1h-2zM524 263h1v1h-1zM1084 263h1v1h-1zM1273 263h2v1h-2zM1340 263h4v1h-4zM462 264h3v1h-3zM523 264h1v1h-1zM1085 264h1v1h-1zM1270 264h3v1h-3zM1344 264h6v1h-6zM465 265h3v1h-3zM522 265h1v1h-1zM1086 265h2v1h-2zM1268 265h2v1h-2zM1350 265h14v1h-14zM468 266h4v1h-4zM520 266h2v1h-2zM1088 266h1v1h-1zM1265 266h3v1h-3zM1364 266h2v1h-2zM472 267h4v1h-4zM518 267h2v1h-2zM1089 267h1v1h-1zM1263 267h2v1h-2zM1366 267h3v1h-3zM476 268h2v1h-2zM517 268h1v1h-1zM1090 268h1v1h-1zM1261 268h2v1h-2zM1369 268h2v1h-2zM478 269h3v1h-3zM515 269h2v1h-2zM1091 269h1v1h-1zM1259 269h2v1h-2zM1371 269h2v1h-2zM481 270h3v1h-3zM512 270h3v1h-3zM1092 270h2v1h-2zM1258 270h1v1h-1zM1373 270h1v1h-1zM484 271h4v1h-4zM508 271h4v1h-4zM1094 271h1v1h-1zM1256 271h2v1h-2zM1374 271h2v1h-2zM488 272h20v1h-20zM1095 272h1v1h-1zM1254 272h2v1h-2zM1376 272h2v1h-2zM1096 273h2v1h-2zM1253 273h1v1h-1zM1378 273h1v1h-1zM1098 274h1v1h-1zM1251 274h2v1h-2zM1379 274h2v1h-2zM1099 275h2v1h-2zM1250 275h1v1h-1zM1381 275h2v1h-2zM1101 276h2v1h-2zM1248 276h2v1h-2zM1383 276h2v1h-2zM1103 277h2v1h-2zM1246 277h2v1h-2zM1385 277h2v1h-2zM1105 278h3v1h-3zM1245 278h1v1h-1zM1387 278h2v1h-2zM1108 279h4v1h-4zM1243 279h2v1h-2zM1389 279h2v1h-2zM1112 280h4v1h-4zM1241 280h2v1h-2zM1391 280h2v1h-2zM1116 281h4v1h-4zM1238 281h3v1h-3zM1393 281h2v1h-2zM1120 282h6v1h-6zM1236 282h2v1h-2zM1395 282h2v1h-2zM1126 283h8v1h-8zM1142 283h24v1h-24zM1233 283h3v1h-3zM1397 283h1v1h-1zM1134 284h8v1h-8zM1166 284h6v1h-6zM1231 284h2v1h-2zM1398 284h2v1h-2zM1172 285h4v1h-4zM1229 285h2v1h-2zM1400 285h2v1h-2zM1176 286h4v1h-4zM1227 286h2v1h-2zM1402 286h1v1h-1zM1180 287h4v1h-4zM1224 287h3v1h-3zM1403 287h2v1h-2zM1184 288h4v1h-4zM1220 288h4v1h-4zM1405 288h2v1h-2zM1188 289h4v1h-4zM1216 289h4v1h-4zM1407 289h2v1h-2zM1192 290h4v1h-4zM1212 290h4v1h-4zM1409 290h2v1h-2zM1196 291h4v1h-4zM1206 291h6v1h-6zM1411 291h2v1h-2zM1200 292h6v1h-6zM1413 292h2v1h-2zM1415 293h2v1h-2zM1417 294h3v1h-3zM1420 295h2v1h-2zM1422 296h3v1h-3zM1425 297h3v1h-3zM1428 298h4v1h-4zM1432 299h3v1h-3zM1435 300h2v1h-2zM1437 301h1v1h-1zM1438 302h2v1h-2zM1440 303h2v1h-2zM1442 304h1v1h-1zM1443 305h2v1h-2zM1445 306h1v1h-1zM1446 307h2v1h-2zM1448 308h2v1h-2zM1450 309h1v1h-1zM1451 310h2v1h-2zM1453 311h1v1h-1zM1454 312h2v1h-2zM1456 313h2v1h-2zM1458 314h1v1h-1zM1459 315h1v1h-1zM1460 316h2v1h-2zM1462 317h1v1h-1zM1463 318h1v1h-1zM1464 319h2v1h-2zM1466 320h1v1h-1zM1467 321h1v1h-1zM1468 322h1v1h-1zM1469 323h1v1h-1zM1470 324h2v1h-2zM1472 325h1v1h-1zM1473 326h1v1h-1zM1474 327h1v1h-1zM1475 328h1v1h-1zM1476 329h1v1h-1zM1477 330h1v1h-1zM1478 331h2v1h-2zM1480 332h1v1h-1zM1481 333h1v1h-1zM1482 334h1v1h-1zM1483 335h1v1h-1zM1484 336h1v1h-1zM1485 337h1v1h-1zM1486 338h1v1h-1zM1487 339h1v1h-1zM1488 340h1v1h-1zM1489 341h1v1h-1zM1490 342h1v1h-1zM1491 343h2v1h-2zM1493 344h2v1h-2zM1495 345h2v1h-2zM1497 346h2v1h-2zM1499 347h1v1h-1zM1500 348h2v1h-2zM1502 349h1v1h-1zM1503 350h1v1h-1zM1504 351h2v1h-2zM1506 352h1v1h-1zM1507 353h1v1h-1zM1508 354h1v1h-1zM1509 355h1v1h-1zM1510 356h2v1h-2zM1512 357h1v1h-1zM1513 358h1v1h-1zM1514 359h1v1h-1zM1515 360h1v1h-1zM1516 361h2v1h-2zM1518 362h1v1h-1zM1519 363h1v1h-1zM1520 364h2v1h-2zM1522 365h1v1h-1zM1523 366h1v1h-1zM1524 367h1v1h-1zM1525 368h1v1h-1zM1526 369h2v1h-2zM1528 370h1v1h-1zM1529 371h1v1h-1zM1530 372h1v1h-1zM1531 373h1v1h-1zM1532 374h1v1h-1zM1533 375h1v1h-1zM1534 376h1v1h-1zM1535 377h1v1h-1zM1536 378h1v1h-1zM1666 378h1v1h-1zM1537 379h1v1h-1zM1665 379h1v1h-1zM1538 380h1v1h-1zM1664 380h1v1h-1zM1539 381h1v1h-1zM1662 381h2v1h-2zM1540 382h1v1h-1zM1661 382h1v1h-1zM1541 383h1v1h-1zM1660 383h1v1h-1zM1542 384h1v1h-1zM1659 384h1v1h-1zM1543 385h1v1h-1zM1658 385h1v1h-1zM1544 386h1v1h-1zM1657 386h1v1h-1zM1545 387h1v1h-1zM1656 387h1v1h-1zM1546 388h1v1h-1zM1655 388h1v1h-1zM1547 389h1v1h-1zM1654 389h1v2h-1zM1548 390h1v1h-1zM1549 391h1v1h-1zM1653 391h1v1h-1zM1550 392h1v1h-1zM1652 392h1v1h-1zM1551 393h1v1h-1zM1651 393h1v1h-1zM1552 394h1v1h-1zM1650 394h1v1h-1zM1553 395h1v1h-1zM1649 395h1v1h-1zM1554 396h1v1h-1zM1648 396h1v1h-1zM1555 397h1v1h-1zM1647 397h1v1h-1zM1556 398h2v1h-2zM1646 398h1v2h-1zM1558 399h1v1h-1zM1559 400h1v1h-1zM1645 400h1v1h-1zM1560 401h2v1h-2zM1644 401h1v1h-1zM1562 402h1v1h-1zM1643 402h1v1h-1zM1563 403h1v1h-1zM1642 403h1v1h-1zM1564 404h2v1h-2zM1641 404h1v1h-1zM1566 405h1v1h-1zM1640 405h1v1h-1zM1567 406h1v1h-1zM1638 406h2v1h-2zM1568 407h2v1h-2zM1637 407h1v1h-1zM1570 408h1v1h-1zM1636 408h1v1h-1zM1571 409h2v1h-2zM1635 409h1v1h-1zM1573 410h1v1h-1zM1634 410h1v1h-1zM1574 411h2v1h-2zM1632 411h2v1h-2zM1576 412h2v1h-2zM1630 412h2v1h-2zM1578 413h2v1h-2zM1629 413h1v1h-1zM1580 414h2v1h-2zM1627 414h2v1h-2zM1582 415h3v1h-3zM1625 415h2v1h-2zM1585 416h3v1h-3zM1623 416h2v1h-2zM1588 417h2v1h-2zM1621 417h2v1h-2zM1590 418h3v1h-3zM1619 418h2v1h-2zM1593 419h3v1h-3zM1616 419h3v1h-3zM1596 420h4v1h-4zM1612 420h4v1h-4zM1600 421h12v1h-12z" fill="#ffa000"/>
<rect x="2" y="52" width="1685" height="2" fill="#ff0000"/>
<rect x="2" y="170" width="1685" height="2" fill="#ff0000"/>
<rect x="2" y="289" width="1685" height="2" fill="#27c227"/>
<rect x="2" y="408" width="1685" height="2" fill="#3a66dd"/>
<path d="M638 525h3v1h-3zM644 525h3v1h-3zM650 525h3v1h-3zM656 525h3v1h-3zM662 525h3v1h-3zM668 525h3v1h-3zM674 525h2v1h-2zM632 526h3v1h-3zM676 526h1v1h-1zM622 527h1v1h-1zM626 527h3v1h-3zM680 527h3v1h-3zM614 528h3v1h-3zM620 528h2v1h-2zM686 528h3v1h-3zM692 528h2v1h-2zM608 529h3v1h-3zM694 529h1v1h-1zM698 529h2v1h-2zM602 530h3v1h-3zM700 530h1v1h-1zM704 531h3v1h-3zM597 532h2v1h-2zM596 533h1v1h-1zM710 533h3v1h-3zM591 535h2v1h-2zM716 535h3v1h-3zM590 536h1v1h-1zM722 536h2v1h-2zM724 537h1v1h-1zM586 538h1v1h-1zM728 538h1v1h-1zM584 539h2v1h-2zM729 539h2v1h-2zM734 541h1v1h-1zM806 541h3v1h-3zM812 541h3v1h-3zM818 541h3v1h-3zM824 541h3v1h-3zM830 541h3v1h-3zM579 542h2v1h-2zM735 542h2v1h-2zM800 542h3v1h-3zM836 542h3v1h-3zM578 543h1v1h-1zM740 543h2v1h-2zM790 543h1v1h-1zM794 543h3v1h-3zM842 543h3v1h-3zM742 544h1v1h-1zM746 544h3v1h-3zM782 544h3v1h-3zM788 544h2v1h-2zM848 544h3v1h-3zM214 545h1v1h-1zM218 545h3v1h-3zM752 545h3v1h-3zM758 545h3v1h-3zM764 545h3v1h-3zM770 545h3v1h-3zM776 545h3v1h-3zM206 546h3v1h-3zM212 546h2v1h-2zM224 546h3v1h-3zM574 546h1v1h-1zM854 546h3v1h-3zM200 547h3v1h-3zM230 547h2v1h-2zM572 547h2v1h-2zM196 548h1v1h-1zM232 548h1v1h-1zM860 548h2v1h-2zM194 549h2v1h-2zM236 549h2v1h-2zM862 549h1v1h-1zM1665 549h1v1h-1zM188 550h3v1h-3zM238 550h1v1h-1zM568 550h1v1h-1zM866 550h1v1h-1zM1664 550h1v1h-1zM184 551h1v1h-1zM242 551h1v1h-1zM567 551h1v1h-1zM867 551h2v1h-2zM1663 551h1v1h-1zM182 552h2v1h-2zM243 552h2v1h-2zM566 552h1v1h-1zM176 553h3v1h-3zM872 553h1v1h-1zM172 554h1v1h-1zM248 554h1v1h-1zM873 554h2v1h-2zM170 555h2v1h-2zM249 555h2v1h-2zM562 555h1v1h-1zM1286 555h3v1h-3zM1292 555h3v1h-3zM1298 555h3v1h-3zM1304 555h3v1h-3zM1660 555h1v1h-1zM164 556h3v1h-3zM561 556h1v1h-1zM878 556h1v1h-1zM1274 556h3v1h-3zM1280 556h3v1h-3zM1310 556h2v1h-2zM1659 556h1v2h-1zM158 557h3v1h-3zM254 557h1v1h-1zM560 557h1v1h-1zM879 557h2v1h-2zM1268 557h3v1h-3zM1312 557h1v1h-1zM146 558h3v1h-3zM152 558h3v1h-3zM255 558h2v1h-2zM1316 558h3v1h-3zM140 559h3v1h-3zM884 559h1v1h-1zM1262 559h3v1h-3zM1322 559h2v1h-2zM134 560h3v1h-3zM260 560h1v1h-1zM556 560h1v1h-1zM885 560h1v1h-1zM1324 560h1v1h-1zM128 561h3v1h-3zM261 561h1v1h-1zM555 561h1v1h-1zM886 561h1v1h-1zM1256 561h3v1h-3zM1328 561h1v1h-1zM1655 561h1v1h-1zM124 562h1v1h-1zM262 562h1v1h-1zM554 562h1v1h-1zM1252 562h1v1h-1zM1329 562h2v1h-2zM1654 562h1v2h-1zM122 563h2v1h-2zM890 563h1v1h-1zM1250 563h2v1h-2zM118 564h1v1h-1zM266 564h1v1h-1zM891 564h2v1h-2zM1246 564h1v1h-1zM1334 564h3v1h-3zM116 565h2v1h-2zM267 565h2v1h-2zM1244 565h2v1h-2zM550 566h1v2h-1zM896 566h1v1h-1zM1340 566h2v1h-2zM110 567h3v1h-3zM897 567h2v1h-2zM1238 567h3v1h-3zM1342 567h1v1h-1zM1650 567h1v1h-1zM272 568h2v1h-2zM549 568h1v1h-1zM1346 568h2v1h-2zM1649 568h1v2h-1zM105 569h2v1h-2zM274 569h1v1h-1zM902 569h1v1h-1zM1233 569h2v1h-2zM1348 569h1v1h-1zM104 570h1v1h-1zM903 570h2v1h-2zM1232 570h1v1h-1zM1352 570h1v1h-1zM1228 571h1v1h-1zM1353 571h2v1h-2zM99 572h2v1h-2zM278 572h1v1h-1zM545 572h1v1h-1zM908 572h1v1h-1zM1226 572h2v1h-2zM98 573h1v1h-1zM279 573h1v1h-1zM544 573h1v1h-1zM909 573h1v1h-1zM1358 573h3v1h-3zM1646 573h1v2h-1zM280 574h1v1h-1zM543 574h1v1h-1zM910 574h1v1h-1zM1221 574h2v1h-2zM93 575h2v1h-2zM1220 575h1v1h-1zM1364 575h3v1h-3zM1645 575h1v1h-1zM92 576h1v1h-1zM284 576h1v1h-1zM914 576h1v1h-1zM1370 576h2v1h-2zM285 577h2v1h-2zM915 577h2v1h-2zM1215 577h2v1h-2zM1372 577h1v1h-1zM88 578h1v1h-1zM539 578h1v1h-1zM1214 578h1v1h-1zM1376 578h3v1h-3zM86 579h2v1h-2zM290 579h1v1h-1zM538 579h1v1h-1zM920 579h1v1h-1zM1382 579h2v1h-2zM1643 579h1v1h-1zM291 580h2v1h-2zM537 580h1v1h-1zM921 580h2v1h-2zM1209 580h2v1h-2zM1384 580h1v1h-1zM1642 580h1v1h-1zM1208 581h1v1h-1zM1388 581h3v1h-3zM1641 581h1v1h-1zM82 582h1v1h-1zM296 582h1v1h-1zM926 582h3v1h-3zM1394 582h2v1h-2zM80 583h2v1h-2zM297 583h2v1h-2zM932 583h2v1h-2zM1203 583h2v1h-2zM1396 583h1v1h-1zM534 584h1v1h-1zM934 584h1v1h-1zM938 584h2v1h-2zM1202 584h1v1h-1zM1400 584h3v1h-3zM1406 584h3v1h-3zM1412 584h2v1h-2zM302 585h3v1h-3zM533 585h1v1h-1zM940 585h1v1h-1zM1414 585h1v1h-1zM1418 585h3v1h-3zM1639 585h1v1h-1zM2 586h2v1h-2zM75 586h2v1h-2zM532 586h1v1h-1zM944 586h1v1h-1zM1198 586h1v1h-1zM1424 586h3v1h-3zM1430 586h3v1h-3zM1436 586h2v1h-2zM1638 586h1v2h-1zM4 587h1v1h-1zM74 587h1v1h-1zM308 587h2v1h-2zM945 587h2v1h-2zM1197 587h1v1h-1zM1438 587h1v1h-1zM1442 587h3v1h-3zM1448 587h3v1h-3zM8 588h1v1h-1zM310 588h1v1h-1zM1196 588h1v1h-1zM1454 588h3v1h-3zM9 589h2v1h-2zM69 589h2v1h-2zM314 589h3v1h-3zM950 589h1v1h-1zM1460 589h2v1h-2zM68 590h1v1h-1zM320 590h3v1h-3zM528 590h1v1h-1zM951 590h2v1h-2zM1191 590h2v1h-2zM1462 590h1v1h-1zM326 591h3v1h-3zM527 591h1v1h-1zM1190 591h1v1h-1zM1466 591h2v1h-2zM1635 591h1v2h-1zM14 592h2v1h-2zM63 592h2v1h-2zM332 592h2v1h-2zM526 592h1v1h-1zM956 592h1v1h-1zM1468 592h1v1h-1zM16 593h1v1h-1zM62 593h1v1h-1zM334 593h1v1h-1zM957 593h2v1h-2zM1185 593h2v1h-2zM1472 593h1v1h-1zM1634 593h1v1h-1zM338 594h3v1h-3zM1184 594h1v1h-1zM1473 594h2v1h-2zM20 595h2v1h-2zM57 595h2v1h-2zM344 595h3v1h-3zM962 595h2v1h-2zM1478 595h2v1h-2zM22 596h1v1h-1zM56 596h1v1h-1zM350 596h3v1h-3zM523 596h1v1h-1zM964 596h1v1h-1zM1179 596h2v1h-2zM1480 596h1v1h-1zM26 597h2v1h-2zM52 597h1v1h-1zM356 597h2v1h-2zM522 597h1v1h-1zM968 597h1v1h-1zM1178 597h1v1h-1zM1484 597h1v1h-1zM1630 597h1v1h-1zM28 598h1v1h-1zM46 598h1v1h-1zM50 598h2v1h-2zM358 598h1v1h-1zM521 598h1v1h-1zM969 598h2v1h-2zM1485 598h2v1h-2zM1629 598h1v1h-1zM32 599h3v1h-3zM38 599h3v1h-3zM44 599h2v1h-2zM362 599h1v1h-1zM1174 599h1v1h-1zM1628 599h1v1h-1zM363 600h2v1h-2zM974 600h1v1h-1zM1173 600h1v1h-1zM1490 600h1v1h-1zM975 601h2v1h-2zM1172 601h1v1h-1zM1491 601h2v1h-2zM368 602h1v1h-1zM518 602h1v2h-1zM1070 602h3v1h-3zM1076 602h3v1h-3zM1082 602h3v1h-3zM1624 602h1v1h-1zM369 603h2v1h-2zM980 603h1v1h-1zM1064 603h3v1h-3zM1088 603h3v1h-3zM1168 603h1v1h-1zM1496 603h1v1h-1zM1623 603h1v1h-1zM517 604h1v1h-1zM981 604h2v1h-2zM1060 604h1v1h-1zM1166 604h2v1h-2zM1497 604h2v1h-2zM1622 604h1v1h-1zM1058 605h2v1h-2zM1094 605h3v1h-3zM374 606h2v1h-2zM986 606h2v1h-2zM1052 606h3v1h-3zM1502 606h1v1h-1zM376 607h1v1h-1zM988 607h1v1h-1zM1100 607h2v1h-2zM1162 607h1v1h-1zM1503 607h2v1h-2zM1618 607h1v1h-1zM514 608h1v1h-1zM992 608h1v1h-1zM1046 608h3v1h-3zM1102 608h1v1h-1zM1160 608h2v1h-2zM1616 608h2v1h-2zM380 609h1v1h-1zM513 609h1v1h-1zM993 609h2v1h-2zM1106 609h2v1h-2zM1508 609h1v1h-1zM381 610h1v1h-1zM512 610h1v1h-1zM1041 610h2v1h-2zM1108 610h1v1h-1zM1509 610h2v1h-2zM382 611h1v1h-1zM998 611h1v1h-1zM1040 611h1v1h-1zM1112 611h3v1h-3zM1155 611h2v1h-2zM1612 611h1v1h-1zM999 612h2v1h-2zM1036 612h1v1h-1zM1154 612h1v1h-1zM1514 612h2v1h-2zM1611 612h1v1h-1zM386 613h1v1h-1zM1034 613h2v1h-2zM1118 613h3v1h-3zM1148 613h3v1h-3zM1516 613h1v1h-1zM1610 613h1v1h-1zM387 614h2v1h-2zM508 614h1v1h-1zM1004 614h2v1h-2zM1028 614h3v1h-3zM1124 614h2v1h-2zM1142 614h3v1h-3zM1520 614h1v1h-1zM507 615h1v1h-1zM1006 615h1v1h-1zM1024 615h1v1h-1zM1126 615h1v1h-1zM1130 615h3v1h-3zM1136 615h3v1h-3zM1521 615h2v1h-2zM1605 615h2v1h-2zM506 616h1v1h-1zM1010 616h3v1h-3zM1022 616h2v1h-2zM1604 616h1v1h-1zM392 617h2v1h-2zM1016 617h3v1h-3zM1526 617h3v1h-3zM394 618h1v1h-1zM1599 618h2v1h-2zM502 619h1v1h-1zM1532 619h2v1h-2zM1598 619h1v1h-1zM501 620h1v1h-1zM1534 620h1v1h-1zM500 621h1v1h-1zM1538 621h3v1h-3zM1593 621h2v1h-2zM398 622h1v1h-1zM1544 622h3v1h-3zM1592 622h1v1h-1zM399 623h1v1h-1zM1588 623h1v1h-1zM400 624h1v1h-1zM1550 624h3v1h-3zM1586 624h2v1h-2zM496 625h1v1h-1zM1556 625h2v1h-2zM1580 625h3v1h-3zM494 626h2v1h-2zM1558 626h1v1h-1zM1562 626h3v1h-3zM1568 626h3v1h-3zM1574 626h3v1h-3zM404 628h1v1h-1zM405 629h1v1h-1zM406 630h1v1h-1zM490 630h1v1h-1zM488 631h2v1h-2zM410 633h1v1h-1zM411 634h2v1h-2zM484 634h1v1h-1zM483 635h1v1h-1zM482 636h1v1h-1zM416 637h2v1h-2zM418 638h1v1h-1zM478 638h1v1h-1zM477 639h1v1h-1zM422 640h3v1h-3zM476 640h1v1h-1zM472 642h1v1h-1zM428 643h2v1h-2zM471 643h1v1h-1zM430 644h1v1h-1zM470 644h1v1h-1zM434 647h1v1h-1zM465 647h2v1h-2zM435 648h2v1h-2zM464 648h1v1h-1zM460 649h1v1h-1zM440 650h1v1h-1zM458 650h2v1h-2zM441 651h2v1h-2zM452 651h3v1h-3zM446 652h3v1h-3z" fill="#ff0000"/>
<path d="M1649 706h18v1h-18zM1646 707h3v1h-3zM1644 708h2v1h-2zM1642 709h2v1h-2zM1640 710h2v1h-2zM1639 711h1v1h-1zM1638 712h1v1h-1zM1636 713h2v1h-2zM1635 714h1v1h-1zM576 715h3v1h-3zM1634 715h1v1h-1zM572 716h4v1h-4zM579 716h1v2h-1zM1632 716h2v1h-2zM566 717h6v1h-6zM630 717h5v1h-5zM1631 717h1v1h-1zM561 718h5v1h-5zM580 718h1v2h-1zM618 718h12v1h-12zM635 718h1v1h-1zM1630 718h1v1h-1zM558 719h3v1h-3zM617 719h1v1h-1zM636 719h1v1h-1zM753 719h2v1h-2zM794 719h1v1h-1zM1628 719h2v1h-2zM556 720h2v1h-2zM581 720h1v1h-1zM616 720h1v1h-1zM637 720h1v1h-1zM750 720h3v1h-3zM755 720h1v1h-1zM792 720h2v1h-2zM795 720h2v1h-2zM1627 720h1v1h-1zM170 721h2v1h-2zM518 721h6v1h-6zM542 721h14v1h-14zM582 721h1v2h-1zM615 721h1v1h-1zM638 721h1v1h-1zM748 721h2v1h-2zM756 721h1v1h-1zM791 721h1v1h-1zM797 721h1v1h-1zM1625 721h2v1h-2zM168 722h2v1h-2zM172 722h2v1h-2zM513 722h5v1h-5zM524 722h4v1h-4zM534 722h8v1h-8zM614 722h1v1h-1zM639 722h1v1h-1zM746 722h2v1h-2zM757 722h1v1h-1zM790 722h1v1h-1zM798 722h2v1h-2zM1622 722h3v1h-3zM166 723h2v1h-2zM174 723h3v1h-3zM511 723h2v1h-2zM528 723h6v1h-6zM583 723h1v1h-1zM613 723h1v1h-1zM640 723h1v1h-1zM648 723h3v1h-3zM745 723h1v1h-1zM758 723h2v1h-2zM788 723h2v1h-2zM800 723h2v1h-2zM1620 723h2v1h-2zM165 724h1v1h-1zM177 724h3v1h-3zM509 724h2v1h-2zM584 724h1v2h-1zM612 724h1v1h-1zM641 724h1v1h-1zM644 724h4v1h-4zM651 724h1v1h-1zM744 724h1v1h-1zM760 724h1v1h-1zM787 724h1v1h-1zM802 724h4v1h-4zM814 724h5v1h-5zM1614 724h6v1h-6zM163 725h2v1h-2zM180 725h4v1h-4zM190 725h13v1h-13zM507 725h2v1h-2zM611 725h1v1h-1zM642 725h2v1h-2zM652 725h2v1h-2zM743 725h1v1h-1zM761 725h1v1h-1zM784 725h3v1h-3zM806 725h8v1h-8zM818 725h1v1h-1zM1608 725h6v1h-6zM162 726h1v1h-1zM184 726h6v1h-6zM202 726h1v1h-1zM504 726h3v1h-3zM585 726h1v2h-1zM608 726h3v1h-3zM654 726h1v1h-1zM742 726h1v1h-1zM762 726h1v1h-1zM780 726h4v1h-4zM819 726h1v2h-1zM1594 726h4v1h-4zM1604 726h4v1h-4zM161 727h1v1h-1zM203 727h1v3h-1zM500 727h4v1h-4zM604 727h4v1h-4zM655 727h1v1h-1zM664 727h3v1h-3zM741 727h1v1h-1zM763 727h2v1h-2zM777 727h3v1h-3zM1593 727h1v2h-1zM1598 727h6v1h-6zM160 728h1v1h-1zM498 728h2v1h-2zM586 728h1v1h-1zM602 728h2v1h-2zM656 728h2v1h-2zM660 728h4v1h-4zM667 728h1v2h-1zM740 728h1v1h-1zM765 728h1v1h-1zM775 728h2v1h-2zM820 728h1v2h-1zM159 729h1v1h-1zM497 729h1v1h-1zM587 729h1v1h-1zM601 729h1v1h-1zM658 729h2v1h-2zM739 729h1v1h-1zM766 729h2v1h-2zM773 729h2v1h-2zM1592 729h1v2h-1zM158 730h1v1h-1zM204 730h1v2h-1zM496 730h1v1h-1zM588 730h1v1h-1zM600 730h1v1h-1zM668 730h1v1h-1zM729 730h10v1h-10zM768 730h2v1h-2zM771 730h2v1h-2zM821 730h1v2h-1zM1202 730h10v1h-10zM1224 730h3v1h-3zM62 731h22v1h-22zM146 731h2v1h-2zM157 731h1v1h-1zM494 731h2v1h-2zM589 731h1v1h-1zM598 731h2v1h-2zM669 731h1v1h-1zM727 731h2v1h-2zM770 731h1v1h-1zM1202 731h1v1h-1zM1212 731h4v1h-4zM1220 731h4v1h-4zM1227 731h1v1h-1zM1591 731h1v2h-1zM58 732h4v1h-4zM84 732h2v1h-2zM144 732h2v1h-2zM148 732h2v1h-2zM156 732h1v1h-1zM205 732h1v3h-1zM458 732h2v1h-2zM493 732h1v1h-1zM590 732h2v1h-2zM597 732h1v1h-1zM670 732h1v2h-1zM725 732h2v1h-2zM822 732h1v2h-1zM1201 732h1v2h-1zM1216 732h4v1h-4zM1228 732h1v1h-1zM57 733h1v1h-1zM86 733h3v1h-3zM142 733h2v1h-2zM150 733h3v1h-3zM155 733h1v1h-1zM458 733h1v1h-1zM460 733h4v1h-4zM470 733h6v1h-6zM492 733h1v1h-1zM592 733h1v1h-1zM596 733h1v1h-1zM723 733h2v1h-2zM1229 733h1v1h-1zM1590 733h1v1h-1zM56 734h1v1h-1zM89 734h2v1h-2zM141 734h1v1h-1zM153 734h2v1h-2zM457 734h1v2h-1zM464 734h6v1h-6zM476 734h2v1h-2zM491 734h1v1h-1zM593 734h1v1h-1zM595 734h1v1h-1zM671 734h1v1h-1zM722 734h1v1h-1zM823 734h1v2h-1zM1200 734h1v2h-1zM1230 734h2v1h-2zM1241 734h3v1h-3zM1589 734h1v2h-1zM55 735h1v1h-1zM91 735h1v1h-1zM139 735h2v1h-2zM206 735h1v3h-1zM478 735h3v1h-3zM486 735h5v1h-5zM594 735h1v1h-1zM672 735h1v1h-1zM720 735h2v1h-2zM1232 735h1v1h-1zM1238 735h3v1h-3zM1244 735h2v1h-2zM54 736h1v1h-1zM92 736h1v1h-1zM136 736h3v1h-3zM456 736h1v2h-1zM481 736h5v1h-5zM673 736h1v2h-1zM718 736h2v1h-2zM824 736h1v2h-1zM1199 736h1v3h-1zM1233 736h1v1h-1zM1236 736h2v1h-2zM1246 736h3v1h-3zM1588 736h1v2h-1zM53 737h1v1h-1zM93 737h1v1h-1zM118 737h8v1h-8zM132 737h4v1h-4zM717 737h1v1h-1zM1146 737h2v1h-2zM1160 737h3v1h-3zM1234 737h2v1h-2zM1249 737h10v1h-10zM1281 737h2v1h-2zM52 738h1v1h-1zM94 738h1v1h-1zM114 738h4v1h-4zM126 738h6v1h-6zM207 738h1v3h-1zM455 738h1v3h-1zM674 738h2v1h-2zM696 738h3v1h-3zM715 738h2v1h-2zM825 738h1v2h-1zM1145 738h1v2h-1zM1148 738h4v1h-4zM1156 738h4v1h-4zM1163 738h2v1h-2zM1177 738h2v1h-2zM1259 738h2v1h-2zM1279 738h2v1h-2zM1283 738h1v1h-1zM1587 738h1v2h-1zM51 739h1v1h-1zM95 739h1v1h-1zM113 739h1v1h-1zM676 739h2v1h-2zM692 739h4v1h-4zM699 739h2v1h-2zM713 739h2v1h-2zM1152 739h4v1h-4zM1165 739h1v1h-1zM1175 739h2v1h-2zM1179 739h1v2h-1zM1198 739h1v2h-1zM1261 739h2v1h-2zM1277 739h2v1h-2zM1284 739h2v1h-2zM49 740h2v1h-2zM96 740h1v1h-1zM112 740h1v1h-1zM678 740h3v1h-3zM686 740h6v1h-6zM701 740h2v1h-2zM710 740h3v1h-3zM826 740h1v2h-1zM840 740h3v1h-3zM1034 740h1v2h-1zM1144 740h1v1h-1zM1166 740h2v1h-2zM1173 740h2v1h-2zM1263 740h2v1h-2zM1275 740h2v1h-2zM1286 740h1v1h-1zM1586 740h1v1h-1zM47 741h2v1h-2zM97 741h1v1h-1zM111 741h1v1h-1zM208 741h1v2h-1zM454 741h1v2h-1zM681 741h5v1h-5zM703 741h2v1h-2zM708 741h2v1h-2zM827 741h3v1h-3zM836 741h4v1h-4zM842 741h1v1h-1zM1033 741h1v1h-1zM1143 741h1v2h-1zM1168 741h2v1h-2zM1171 741h2v1h-2zM1180 741h1v2h-1zM1197 741h1v3h-1zM1265 741h10v1h-10zM1287 741h1v1h-1zM1434 741h1v2h-1zM1585 741h1v1h-1zM45 742h2v1h-2zM98 742h1v1h-1zM110 742h1v1h-1zM705 742h3v1h-3zM830 742h6v1h-6zM843 742h1v4h-1zM1032 742h1v1h-1zM1035 742h1v2h-1zM1170 742h1v1h-1zM1288 742h2v1h-2zM1433 742h1v2h-1zM1584 742h1v2h-1zM43 743h2v1h-2zM99 743h2v1h-2zM109 743h1v1h-1zM209 743h1v3h-1zM453 743h1v3h-1zM1031 743h1v1h-1zM1142 743h1v1h-1zM1181 743h1v2h-1zM1290 743h1v1h-1zM1435 743h1v2h-1zM41 744h2v1h-2zM101 744h2v1h-2zM108 744h1v1h-1zM1030 744h1v1h-1zM1036 744h1v2h-1zM1141 744h1v2h-1zM1196 744h1v2h-1zM1291 744h1v1h-1zM1432 744h1v2h-1zM1583 744h1v1h-1zM22 745h6v1h-6zM39 745h2v1h-2zM103 745h2v1h-2zM107 745h1v1h-1zM1029 745h1v1h-1zM1182 745h1v1h-1zM1292 745h1v1h-1zM1436 745h1v2h-1zM1582 745h1v1h-1zM18 746h4v1h-4zM28 746h2v1h-2zM37 746h2v1h-2zM105 746h2v1h-2zM210 746h1v2h-1zM452 746h1v2h-1zM844 746h1v4h-1zM1028 746h1v1h-1zM1037 746h1v2h-1zM1140 746h1v1h-1zM1183 746h1v2h-1zM1195 746h1v2h-1zM1293 746h1v1h-1zM1431 746h1v1h-1zM1581 746h1v1h-1zM16 747h2v1h-2zM30 747h3v1h-3zM35 747h2v1h-2zM1027 747h1v1h-1zM1130 747h2v1h-2zM1139 747h1v2h-1zM1294 747h1v2h-1zM1430 747h1v2h-1zM1437 747h1v2h-1zM1580 747h1v2h-1zM15 748h1v1h-1zM33 748h2v1h-2zM211 748h1v1h-1zM451 748h1v2h-1zM1025 748h2v1h-2zM1038 748h1v3h-1zM1129 748h1v2h-1zM1132 748h4v1h-4zM1184 748h1v2h-1zM1194 748h1v2h-1zM14 749h1v1h-1zM212 749h1v1h-1zM1023 749h2v1h-2zM1136 749h3v1h-3zM1193 749h1v1h-1zM1295 749h1v1h-1zM1429 749h1v1h-1zM1438 749h1v3h-1zM1579 749h1v1h-1zM12 750h2v1h-2zM213 750h1v1h-1zM450 750h1v2h-1zM845 750h1v4h-1zM1021 750h2v1h-2zM1128 750h1v1h-1zM1185 750h1v2h-1zM1190 750h3v1h-3zM1296 750h1v1h-1zM1428 750h1v2h-1zM1578 750h1v1h-1zM11 751h1v1h-1zM214 751h1v2h-1zM1019 751h2v1h-2zM1039 751h1v2h-1zM1127 751h1v2h-1zM1188 751h2v1h-2zM1297 751h1v1h-1zM1312 751h3v1h-3zM1576 751h2v1h-2zM10 752h1v1h-1zM258 752h1v1h-1zM448 752h2v1h-2zM1017 752h2v1h-2zM1186 752h2v1h-2zM1298 752h4v1h-4zM1308 752h4v1h-4zM1315 752h1v1h-1zM1345 752h3v1h-3zM1427 752h1v2h-1zM1439 752h1v2h-1zM1574 752h2v1h-2zM9 753h1v1h-1zM215 753h1v1h-1zM257 753h1v2h-1zM259 753h1v2h-1zM446 753h2v1h-2zM1015 753h2v1h-2zM1040 753h1v2h-1zM1126 753h1v1h-1zM1302 753h6v1h-6zM1316 753h2v1h-2zM1343 753h2v1h-2zM1348 753h2v1h-2zM1573 753h1v1h-1zM8 754h1v2h-1zM216 754h1v1h-1zM306 754h1v1h-1zM445 754h1v1h-1zM846 754h1v4h-1zM1001 754h3v1h-3zM1013 754h2v1h-2zM1125 754h1v2h-1zM1318 754h1v1h-1zM1341 754h2v1h-2zM1350 754h3v1h-3zM1426 754h1v1h-1zM1440 754h1v2h-1zM1571 754h2v1h-2zM217 755h1v1h-1zM222 755h5v1h-5zM256 755h1v2h-1zM260 755h1v1h-1zM304 755h2v1h-2zM307 755h1v1h-1zM443 755h2v1h-2zM998 755h3v1h-3zM1004 755h4v1h-4zM1011 755h2v1h-2zM1041 755h1v2h-1zM1319 755h1v1h-1zM1339 755h2v1h-2zM1353 755h3v1h-3zM1424 755h2v1h-2zM1570 755h1v2h-1zM7 756h1v1h-1zM218 756h4v1h-4zM227 756h2v1h-2zM261 756h1v2h-1zM302 756h2v1h-2zM308 756h2v1h-2zM442 756h1v1h-1zM996 756h2v1h-2zM1008 756h3v1h-3zM1124 756h1v1h-1zM1320 756h2v1h-2zM1338 756h1v1h-1zM1356 756h4v1h-4zM1422 756h2v1h-2zM1441 756h1v2h-1zM6 757h1v1h-1zM229 757h2v1h-2zM255 757h1v2h-1zM301 757h1v1h-1zM310 757h1v1h-1zM441 757h1v2h-1zM865 757h3v1h-3zM994 757h2v1h-2zM1042 757h1v2h-1zM1123 757h1v2h-1zM1322 757h1v1h-1zM1336 757h2v1h-2zM1360 757h4v1h-4zM1421 757h1v1h-1zM1569 757h1v2h-1zM5 758h1v1h-1zM231 758h2v1h-2zM262 758h1v1h-1zM299 758h2v1h-2zM311 758h1v1h-1zM847 758h1v4h-1zM863 758h2v1h-2zM868 758h2v1h-2zM886 758h5v1h-5zM930 758h1v1h-1zM994 758h1v1h-1zM1043 758h1v1h-1zM1323 758h2v1h-2zM1335 758h1v1h-1zM1364 758h4v1h-4zM1393 758h3v1h-3zM1419 758h2v1h-2zM1442 758h1v2h-1zM4 759h1v2h-1zM233 759h2v1h-2zM254 759h1v1h-1zM263 759h1v2h-1zM294 759h5v1h-5zM312 759h2v1h-2zM440 759h1v2h-1zM861 759h2v1h-2zM870 759h3v1h-3zM878 759h8v1h-8zM891 759h1v1h-1zM928 759h2v1h-2zM931 759h1v2h-1zM993 759h1v2h-1zM1044 759h4v1h-4zM1121 759h2v1h-2zM1325 759h1v1h-1zM1334 759h1v1h-1zM1368 759h3v1h-3zM1390 759h3v1h-3zM1396 759h2v1h-2zM1417 759h2v1h-2zM1568 759h1v2h-1zM235 760h1v1h-1zM253 760h1v2h-1zM286 760h8v1h-8zM314 760h2v1h-2zM859 760h2v1h-2zM873 760h5v1h-5zM892 760h2v1h-2zM926 760h2v1h-2zM1048 760h6v1h-6zM1118 760h3v1h-3zM1326 760h2v1h-2zM1332 760h2v1h-2zM1371 760h2v1h-2zM1388 760h2v1h-2zM1398 760h3v1h-3zM1414 760h3v1h-3zM1443 760h1v2h-1zM3 761h1v1h-1zM236 761h2v1h-2zM264 761h1v1h-1zM281 761h5v1h-5zM316 761h4v1h-4zM439 761h1v1h-1zM858 761h1v1h-1zM894 761h1v1h-1zM925 761h1v1h-1zM932 761h1v2h-1zM992 761h1v2h-1zM1054 761h5v1h-5zM1106 761h4v1h-4zM1116 761h2v1h-2zM1328 761h2v1h-2zM1331 761h1v1h-1zM1373 761h1v1h-1zM1385 761h3v1h-3zM1401 761h5v1h-5zM1412 761h2v1h-2zM1567 761h1v2h-1zM2 762h1v1h-1zM238 762h1v1h-1zM252 762h1v2h-1zM265 762h1v2h-1zM278 762h3v1h-3zM320 762h6v1h-6zM438 762h1v2h-1zM848 762h1v4h-1zM857 762h1v1h-1zM895 762h1v1h-1zM923 762h2v1h-2zM1059 762h1v1h-1zM1104 762h2v1h-2zM1110 762h6v1h-6zM1330 762h1v1h-1zM1374 762h2v1h-2zM1382 762h3v1h-3zM1406 762h6v1h-6zM1444 762h1v2h-1zM239 763h1v1h-1zM276 763h2v1h-2zM326 763h5v1h-5zM856 763h1v2h-1zM896 763h2v1h-2zM921 763h2v1h-2zM933 763h1v2h-1zM991 763h1v2h-1zM1060 763h1v1h-1zM1102 763h2v1h-2zM1376 763h2v1h-2zM1380 763h2v1h-2zM1566 763h1v2h-1zM240 764h2v1h-2zM251 764h1v2h-1zM266 764h10v1h-10zM331 764h2v1h-2zM437 764h1v1h-1zM898 764h4v1h-4zM919 764h2v1h-2zM1061 764h1v1h-1zM1101 764h1v1h-1zM1378 764h2v1h-2zM1445 764h1v1h-1zM242 765h4v1h-4zM333 765h2v1h-2zM436 765h1v2h-1zM855 765h1v1h-1zM902 765h6v1h-6zM917 765h2v1h-2zM934 765h1v2h-1zM990 765h1v3h-1zM1062 765h1v1h-1zM1099 765h2v1h-2zM1446 765h1v2h-1zM1565 765h1v2h-1zM246 766h5v1h-5zM335 766h2v1h-2zM849 766h1v4h-1zM854 766h1v1h-1zM908 766h4v1h-4zM915 766h2v1h-2zM1063 766h1v1h-1zM1098 766h1v1h-1zM1514 766h1v1h-1zM337 767h3v1h-3zM414 767h5v1h-5zM435 767h1v2h-1zM853 767h1v1h-1zM912 767h3v1h-3zM935 767h1v2h-1zM1064 767h1v1h-1zM1097 767h1v2h-1zM1447 767h1v1h-1zM1512 767h2v1h-2zM1515 767h2v1h-2zM1564 767h1v2h-1zM340 768h4v1h-4zM410 768h4v1h-4zM419 768h1v1h-1zM852 768h1v2h-1zM989 768h1v2h-1zM1065 768h1v1h-1zM1448 768h1v2h-1zM1498 768h1v1h-1zM1511 768h1v1h-1zM1517 768h2v1h-2zM344 769h3v1h-3zM409 769h1v2h-1zM420 769h2v1h-2zM433 769h2v1h-2zM936 769h1v2h-1zM1066 769h4v1h-4zM1096 769h1v2h-1zM1497 769h1v2h-1zM1499 769h2v1h-2zM1510 769h1v1h-1zM1519 769h2v1h-2zM1563 769h1v2h-1zM347 770h1v2h-1zM422 770h1v1h-1zM431 770h2v1h-2zM850 770h2v1h-2zM988 770h1v2h-1zM1070 770h5v1h-5zM1449 770h1v2h-1zM1501 770h2v1h-2zM1508 770h2v1h-2zM1521 770h2v1h-2zM408 771h1v2h-1zM423 771h1v1h-1zM429 771h2v1h-2zM850 771h1v1h-1zM937 771h1v2h-1zM970 771h2v1h-2zM1075 771h1v1h-1zM1095 771h1v1h-1zM1496 771h1v2h-1zM1503 771h2v1h-2zM1507 771h1v1h-1zM1523 771h1v1h-1zM1562 771h1v1h-1zM348 772h1v2h-1zM424 772h2v1h-2zM427 772h2v1h-2zM969 772h1v1h-1zM972 772h2v1h-2zM987 772h1v2h-1zM1076 772h1v1h-1zM1094 772h1v2h-1zM1450 772h2v1h-2zM1505 772h2v1h-2zM1524 772h2v1h-2zM1561 772h1v1h-1zM407 773h1v1h-1zM426 773h1v1h-1zM938 773h1v2h-1zM968 773h1v1h-1zM974 773h3v1h-3zM1077 773h1v1h-1zM1452 773h4v1h-4zM1495 773h1v2h-1zM1526 773h1v1h-1zM1560 773h1v1h-1zM349 774h1v1h-1zM406 774h1v2h-1zM967 774h1v1h-1zM977 774h5v1h-5zM986 774h1v2h-1zM1078 774h1v1h-1zM1093 774h1v1h-1zM1456 774h11v1h-11zM1527 774h1v1h-1zM1559 774h1v1h-1zM350 775h1v2h-1zM939 775h1v1h-1zM966 775h1v1h-1zM982 775h4v1h-4zM1079 775h1v1h-1zM1092 775h1v2h-1zM1467 775h1v1h-1zM1494 775h1v2h-1zM1528 775h2v1h-2zM1558 775h1v2h-1zM394 776h1v1h-1zM405 776h1v1h-1zM940 776h2v1h-2zM965 776h1v1h-1zM1080 776h1v1h-1zM1468 776h1v1h-1zM1530 776h9v1h-9zM351 777h1v1h-1zM393 777h1v2h-1zM395 777h2v1h-2zM404 777h1v2h-1zM942 777h1v1h-1zM964 777h1v1h-1zM1081 777h1v1h-1zM1091 777h1v2h-1zM1469 777h1v1h-1zM1493 777h1v2h-1zM1539 777h2v1h-2zM1557 777h1v1h-1zM352 778h1v2h-1zM397 778h1v1h-1zM943 778h1v1h-1zM963 778h1v1h-1zM1082 778h4v1h-4zM1470 778h2v1h-2zM1541 778h2v1h-2zM1556 778h1v1h-1zM392 779h1v2h-1zM398 779h2v1h-2zM403 779h1v2h-1zM944 779h2v1h-2zM961 779h2v1h-2zM1086 779h5v1h-5zM1472 779h1v1h-1zM1492 779h1v2h-1zM1543 779h2v1h-2zM1555 779h1v1h-1zM353 780h1v2h-1zM400 780h2v1h-2zM946 780h2v1h-2zM958 780h3v1h-3zM1473 780h1v1h-1zM1545 780h10v1h-10zM391 781h1v2h-1zM402 781h1v1h-1zM948 781h4v1h-4zM956 781h2v1h-2zM1474 781h2v1h-2zM1491 781h1v2h-1zM354 782h1v1h-1zM952 782h4v1h-4zM1476 782h4v1h-4zM355 783h1v1h-1zM390 783h1v1h-1zM1480 783h11v1h-11zM356 784h1v1h-1zM389 784h1v2h-1zM357 785h1v1h-1zM358 786h1v1h-1zM388 786h1v2h-1zM359 787h1v1h-1zM360 788h1v1h-1zM387 788h1v2h-1zM361 789h1v1h-1zM378 789h4v1h-4zM362 790h1v1h-1zM376 790h2v1h-2zM382 790h5v1h-5zM363 791h2v1h-2zM374 791h2v1h-2zM365 792h2v1h-2zM373 792h1v1h-1zM367 793h2v1h-2zM371 793h2v1h-2zM369 794h2v1h-2z" fill="#1e90ff"/>
<rect x="1" y="1" width="1687" height="1" fill="#000"/>
<rect x="1" y="1" width="1" height="501" fill="#000"/>
<rect x="1" y="501" width="1687" height="1" fill="#000"/>
<rect x="1" y="503" width="1687" height="1" fill="#000"/>
<rect x="1" y="503" width="1" height="163" fill="#000"/>
<rect x="1" y="665" width="1687" height="1" fill="#000"/>
<rect x="1" y="667" width="1687" height="1" fill="#000"/>
<rect x="1" y="667" width="1" height="150" fill="#000"/>
<rect x="1" y="816" width="1687" height="1" fill="#000"/>
<rect x="1687" y="1" width="1" height="501" fill="#000"/>
<rect x="1687" y="503" width="1" height="163" fill="#000"/>
<rect x="1687" y="667" width="1" height="150" fill="#000"/>
<rect x="1688" y="3" width="2" height="1" fill="#000"/>
<rect x="1688" y="36" width="2" height="1" fill="#000"/>
<rect x="1688" y="69" width="2" height="1" fill="#000"/>
<rect x="1688" y="102" width="2" height="1" fill="#000"/>
<rect x="1688" y="135" width="2" height="1" fill="#000"/>
<rect x="1688" y="168" width="2" height="1" fill="#000"/>
<rect x="1688" y="201" width="2" height="1" fill="#000"/>
<rect x="1688" y="234" width="2" height="1" fill="#000"/>
<rect x="1688" y="267" width="2" height="1" fill="#000"/>
<rect x="1688" y="300" width="2" height="1" fill="#000"/>
<rect x="1688" y="333" width="2" height="1" fill="#000"/>
<rect x="1688" y="366" width="2" height="1" fill="#000"/>
<rect x="1688" y="399" width="2" height="1" fill="#000"/>
<rect x="1688" y="432" width="2" height="1" fill="#000"/>
<rect x="1688" y="465" width="2" height="1" fill="#000"/>
<rect x="1688" y="498" width="2" height="1" fill="#000"/>
<rect x="1688" y="505" width="2" height="1" fill="#000"/>
<rect x="1688" y="563" width="2" height="1" fill="#000"/>
<rect x="1688" y="663" width="2" height="1" fill="#000"/>
<rect x="1688" y="670" width="2" height="1" fill="#000"/>
<rect x="1688" y="713" width="2" height="1" fill="#000"/>
<rect x="1688" y="771" width="2" height="1" fill="#000"/>
<rect x="1688" y="815" width="2" height="1" fill="#000"/>
<rect x="2" y="817" width="1" height="3" fill="#000"/>
<rect x="66" y="817" width="1" height="3" fill="#000"/>
<rect x="130" y="817" width="1" height="3" fill="#000"/>
<rect x="194" y="817" width="1" height="3" fill="#000"/>
<rect x="258" y="817" width="1" height="3" fill="#000"/>
<rect x="322" y="817" width="1" height="3" fill="#000"/>
<rect x="386" y="817" width="1" height="3" fill="#000"/>
<rect x="450" y="817" width="1" height="3" fill="#000"/>
<rect x="514" y="817" width="1" height="3" fill="#000"/>
<rect x="578" y="817" width="1" height="3" fill="#000"/>
<rect x="642" y="817" width="1" height="3" fill="#000"/>
<rect x="706" y="817" width="1" height="3" fill="#000"/>
<rect x="770" y="817" width="1" height="3" fill="#000"/>
<rect x="834" y="817" width="1" height="3" fill="#000"/>
<rect x="898" y="817" width="1" height="3" fill="#000"/>
<rect x="962" y="817" width="1" height="3" fill="#000"/>
<rect x="1026" y="817" width="1" height="3" fill="#000"/>
<rect x="1090" y="817" width="1" height="3" fill="#000"/>
<rect x="1154" y="817" width="1" height="3" fill="#000"/>
<rect x="1218" y="817" width="1" height="3" fill="#000"/>
<rect x="1282" y="817" width="1" height="3" fill="#000"/>
<rect x="1346" y="817" width="1" height="3" fill="#000"/>
<rect x="1410" y="817" width="1" height="3" fill="#000"/>
<rect x="1474" y="817" width="1" height="3" fill="#000"/>
<rect x="1538" y="817" width="1" height="3" fill="#000"/>
<rect x="1602" y="817" width="1" height="3" fill="#000"/>
<rect x="1666" y="817" width="1" height="3" fill="#000"/>
<path d="M5 8h7v1h-1v1h-1v1h-1v1h-1v-1h-1v-1h-1v-1h-1z" fill="#000"/>
<rect x="1689" y="47" width="33" height="11" fill="#ff0000"/>
<rect x="1689" y="165" width="33" height="11" fill="#ff0000"/>
<rect x="1689" y="284" width="33" height="11" fill="#27c227"/>
<rect x="1689" y="403" width="33" height="11" fill="#3a66dd"/>
<rect x="1689" y="241" width="33" height="11" fill="#000"/>
</g>
<text transform="translate(17.3,13) scale(0.9796,1)" xml:space="preserve">UKOil-,H4&#160;&#160;71.110 71.110 71.110 71.110</text>
<text transform="translate(5.5,516) scale(0.9796,1)">MACD(12,26,9) 0.8494 0.2812</text>
<text transform="translate(5.5,680) scale(0.9796,1)">RSI(14) 74.3811</text>
<text transform="translate(1693,7) scale(0.9796,1)" style="letter-spacing:-0.2px;">77.255</text>
<text transform="translate(1693,40) scale(0.9796,1)" style="letter-spacing:-0.2px;">76.430</text>
<text transform="translate(1693,73) scale(0.9796,1)" style="letter-spacing:-0.2px;">75.580</text>
<text transform="translate(1693,106) scale(0.9796,1)" style="letter-spacing:-0.2px;">74.755</text>
<text transform="translate(1693,139) scale(0.9796,1)" style="letter-spacing:-0.2px;">73.930</text>
<text transform="translate(1693,205) scale(0.9796,1)" style="letter-spacing:-0.2px;">72.255</text>
<text transform="translate(1693,238) scale(0.9796,1)" style="letter-spacing:-0.2px;">71.405</text>
<text transform="translate(1693,271) scale(0.9796,1)" style="letter-spacing:-0.2px;">70.580</text>
<text transform="translate(1693,304) scale(0.9796,1)" style="letter-spacing:-0.2px;">69.755</text>
<text transform="translate(1693,337) scale(0.9796,1)" style="letter-spacing:-0.2px;">68.905</text>
<text transform="translate(1693,370) scale(0.9796,1)" style="letter-spacing:-0.2px;">68.080</text>
<text transform="translate(1693,403) scale(0.9796,1)" style="letter-spacing:-0.2px;">67.255</text>
<text transform="translate(1693,436) scale(0.9796,1)" style="letter-spacing:-0.2px;">66.405</text>
<text transform="translate(1693,469) scale(0.9796,1)" style="letter-spacing:-0.2px;">65.580</text>
<text transform="translate(1693,502) scale(0.9796,1)" style="letter-spacing:-0.2px;">64.755</text>
<text transform="translate(1693,56) scale(0.9796,1)" style="fill:#fff;letter-spacing:-0.2px;">76.000</text>
<text transform="translate(1693,174) scale(0.9796,1)" style="fill:#fff;letter-spacing:-0.2px;">73.000</text>
<text transform="translate(1693,293) scale(0.9796,1)" style="fill:#fff;letter-spacing:-0.2px;">70.000</text>
<text transform="translate(1693,412) scale(0.9796,1)" style="fill:#fff;letter-spacing:-0.2px;">67.000</text>
<text transform="translate(1693,250) scale(0.9796,1)" style="fill:#fff;letter-spacing:-0.2px;">71.110</text>
<text transform="translate(1691,514) scale(0.9796,1)" style="letter-spacing:-0.2px;">0.9691</text>
<text transform="translate(1691,567) scale(0.9796,1)" style="letter-spacing:-0.2px;">0.00</text>
<text transform="translate(1691,662) scale(0.9796,1)" style="letter-spacing:-0.2px;">-1.6634</text>
<text transform="translate(1691,678) scale(0.9796,1)">100</text>
<text transform="translate(1691,716.5) scale(0.9796,1)">70</text>
<text transform="translate(1691,775) scale(0.9796,1)">30</text>
<text transform="translate(1691,813) scale(0.9796,1)">0</text>
<text transform="translate(1,829) scale(0.9796,1)" style="letter-spacing:-0.2px;">8 Jul 2021</text>
<text transform="translate(65,829) scale(0.9796,1)" style="letter-spacing:-0.2px;">9 Jul 16:00</text>
<text transform="translate(129,829) scale(0.9796,1)" style="letter-spacing:-0.2px;">12 Jul 20:00</text>
<text transform="translate(193,829) scale(0.9796,1)" style="letter-spacing:-0.2px;">14 Jul 04:00</text>
<text transform="translate(257,829) scale(0.9796,1)" style="letter-spacing:-0.2px;">15 Jul 12:00</text>
<text transform="translate(321,829) scale(0.9796,1)" style="letter-spacing:-0.2px;">16 Jul 20:00</text>
<text transform="translate(385,829) scale(0.9796,1)" style="letter-spacing:-0.2px;">20 Jul 00:00</text>
<text transform="translate(449,829) scale(0.9796,1)" style="letter-spacing:-0.2px;">21 Jul 08:00</text>
<text transform="translate(513,829) scale(0.9796,1)" style="letter-spacing:-0.2px;">22 Jul 16:00</text>
<text transform="translate(577,829) scale(0.9796,1)" style="letter-spacing:-0.2px;">25 Jul 23:00</text>
<text transform="translate(641,829) scale(0.9796,1)" style="letter-spacing:-0.2px;">27 Jul 04:00</text>
<text transform="translate(705,829) scale(0.9796,1)" style="letter-spacing:-0.2px;">28 Jul 16:00</text>
<text transform="translate(769,829) scale(0.9796,1)" style="letter-spacing:-0.2px;">30 Jul 00:00</text>
<text transform="translate(833,829) scale(0.9796,1)">2 Aug 04:00</text>
<text transform="translate(897,829) scale(0.9796,1)">3 Aug 12:00</text>
<text transform="translate(961,829) scale(0.9796,1)">4 Aug 20:00</text>
<text transform="translate(1025,829) scale(0.9796,1)">6 Aug 04:00</text>
<text transform="translate(1089,829) scale(0.9796,1)">9 Aug 08:00</text>
<text transform="translate(1153,829) scale(0.9796,1)">10 Aug 16:00</text>
<text transform="translate(1217,829) scale(0.9796,1)">12 Aug 00:00</text>
<text transform="translate(1281,829) scale(0.9796,1)">13 Aug 08:00</text>
<text transform="translate(1345,829) scale(0.9796,1)">16 Aug 12:00</text>
<text transform="translate(1409,829) scale(0.9796,1)">17 Aug 20:00</text>
<text transform="translate(1473,829) scale(0.9796,1)">19 Aug 04:00</text>
<text transform="translate(1537,829) scale(0.9796,1)">20 Aug 12:00</text>
<text transform="translate(1601,829) scale(0.9796,1)">23 Aug 16:00</text>
<text transform="translate(1665,829) scale(0.9796,1)">24 Aug 21:15</text>
<g fill="none" stroke="#e8141c" stroke-width="2.8" stroke-linejoin="miter">
<path d="M679 331.4L665.1 341.9" stroke-linejoin="bevel"/>
<path d="M675.9 335.9H693C691 338.5 688.4 340.8 684 343.5C679.4 346 672 348.5 664.1 350.2" stroke-linejoin="bevel"/>
<path d="M673.5 340.5L678.7 345" stroke-linejoin="bevel"/>
<path d="M685 346L666.1 357.2" stroke-linejoin="bevel"/>
<path d="M682.2 349.5H695.1C693 352.5 689.8 355 686 358C681.5 360.6 674 363.3 664.8 364.9" stroke-linejoin="bevel"/>
<path d="M677.6 355.4L681.8 359.6" stroke-linejoin="bevel"/>
<path d="M714.2 331.8L717 335.9"/>
<path d="M701.3 342.6V336.3H730.6V342.6"/>
<path d="M711.8 340.8L699.6 349.9"/>
<path d="M719.8 340.8L732.4 349.5"/>
<path d="M703.4 350.9H728.5"/>
<path d="M716 350.9V362.8"/>
<path d="M700 362.8H732"/>
<path d="M735.1 337.9H749.4"/>
<path d="M742.1 331.4L736.9 349.9H749.4"/>
<path d="M743.8 342.2V365.6"/>
<path d="M734.8 358.2L749.8 355.8"/>
<path d="M751.5 337.9H767.9"/>
<path d="M750.1 344.9H769.3"/>
<path d="M758.8 331.4L755.3 350.6L767.5 352L760.9 361"/>
<path d="M752.6 356.5L764.4 365.2"/>
<path d="M771.6 339.4H782.8"/>
<path d="M776.8 331.8V362C776.8 363.5 775.5 363.9 771.8 363.6"/>
<path d="M770.9 351.6L782.1 347.8"/>
<path d="M803.7 333.5L786.6 336.3V350C786.6 356 784.5 361 781.4 365.2"/>
<path d="M786.6 346H805.1"/>
<path d="M797.4 346V365.9"/>
<path d="M823.5 331.1V343.3"/>
<path d="M823.5 336.3H840.6"/>
<path d="M812.4 355V343.3H836.1V355"/>
<path d="M812.4 353.7H836.1"/>
<path d="M812.4 357.2L807.9 364.9"/>
<path d="M818.7 356.8L821.1 364.5"/>
<path d="M826.7 356.5L829.8 364.2"/>
<path d="M835 356.8L839.9 364.9"/>
<path d="M844.1 335.3H860.1" stroke-width="3.1"/>
<path d="M860.3 334.6C856 342 852 352 849.6 360.8" stroke-width="3.1"/>
<ellipse cx="873.7" cy="347.6" rx="7.5" ry="12.6" stroke-width="3.1"/>
</g>
</svg></body></html>
